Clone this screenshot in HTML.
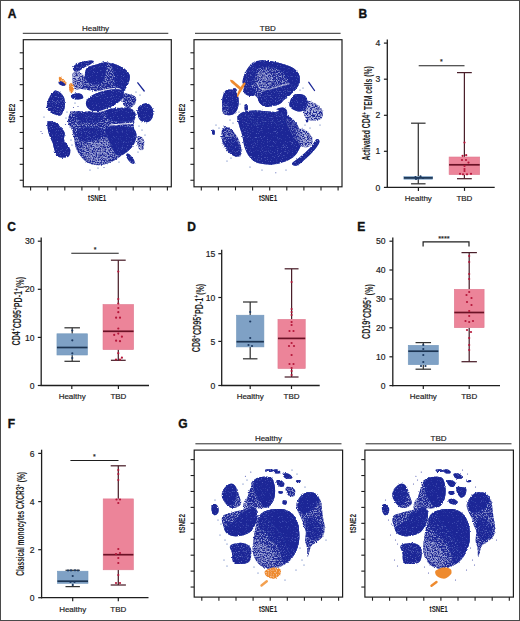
<!DOCTYPE html>
<html><head><meta charset="utf-8"><style>
html,body{margin:0;padding:0;background:#fff;}
svg{display:block;}
text{font-family:"Liberation Sans",sans-serif;}
</style></head><body>
<svg width="520" height="621" viewBox="0 0 520 621">
<rect x="0" y="0" width="520" height="621" fill="#fff"/>
<defs><filter id="d0" x="-10%" y="-10%" width="120%" height="120%"><feTurbulence type="fractalNoise" baseFrequency="0.8" numOctaves="2" seed="7" result="n"/><feDisplacementMap in="SourceGraphic" in2="n" scale="2.4" xChannelSelector="R" yChannelSelector="G" result="d"/><feColorMatrix in="n" type="matrix" values="0 0 0 0 0 0 0 0 0 0 0 0 0 0 0 4 0 0 0 -0.6" result="a"/><feFlood flood-color="#4a5abb" flood-opacity="0.9" result="fl"/><feComposite in="fl" in2="d" operator="in" result="lt"/><feComposite in="d" in2="a" operator="in" result="dk"/><feMerge><feMergeNode in="lt"/><feMergeNode in="dk"/></feMerge></filter><filter id="d1" x="-10%" y="-10%" width="120%" height="120%"><feTurbulence type="fractalNoise" baseFrequency="0.8" numOctaves="2" seed="7" result="n"/><feDisplacementMap in="SourceGraphic" in2="n" scale="2.4" xChannelSelector="R" yChannelSelector="G" result="d"/><feColorMatrix in="n" type="matrix" values="0 0 0 0 0 0 0 0 0 0 0 0 0 0 0 4 0 0 0 -0.85" result="a"/><feFlood flood-color="#4a58b6" flood-opacity="0.85" result="fl"/><feComposite in="fl" in2="d" operator="in" result="lt"/><feComposite in="d" in2="a" operator="in" result="dk"/><feMerge><feMergeNode in="lt"/><feMergeNode in="dk"/></feMerge></filter><filter id="d2" x="-10%" y="-10%" width="120%" height="120%"><feTurbulence type="fractalNoise" baseFrequency="0.8" numOctaves="2" seed="7" result="n"/><feDisplacementMap in="SourceGraphic" in2="n" scale="2.4" xChannelSelector="R" yChannelSelector="G" result="d"/><feColorMatrix in="n" type="matrix" values="0 0 0 0 0 0 0 0 0 0 0 0 0 0 0 4 0 0 0 -1.15" result="a"/><feFlood flood-color="#7b86cc" flood-opacity="0.8" result="fl"/><feComposite in="fl" in2="d" operator="in" result="lt"/><feComposite in="d" in2="a" operator="in" result="dk"/><feMerge><feMergeNode in="lt"/><feMergeNode in="dk"/></feMerge></filter><filter id="d3" x="-10%" y="-10%" width="120%" height="120%"><feTurbulence type="fractalNoise" baseFrequency="0.8" numOctaves="2" seed="7" result="n"/><feDisplacementMap in="SourceGraphic" in2="n" scale="2.4" xChannelSelector="R" yChannelSelector="G" result="d"/><feColorMatrix in="n" type="matrix" values="0 0 0 0 0 0 0 0 0 0 0 0 0 0 0 4 0 0 0 -1.45" result="a"/><feFlood flood-color="#a3abdf" flood-opacity="0.75" result="fl"/><feComposite in="fl" in2="d" operator="in" result="lt"/><feComposite in="d" in2="a" operator="in" result="dk"/><feMerge><feMergeNode in="lt"/><feMergeNode in="dk"/></feMerge></filter><filter id="dor" x="-10%" y="-10%" width="120%" height="120%"><feTurbulence type="fractalNoise" baseFrequency="0.8" numOctaves="2" seed="11" result="n"/><feDisplacementMap in="SourceGraphic" in2="n" scale="2" xChannelSelector="R" yChannelSelector="G" result="d"/><feColorMatrix in="n" type="matrix" values="0 0 0 0 0 0 0 0 0 0 0 0 0 0 0 4 0 0 0 -1.0" result="a"/><feFlood flood-color="#f6c08a" flood-opacity="0.9" result="fl"/><feComposite in="fl" in2="d" operator="in" result="lt"/><feComposite in="d" in2="a" operator="in" result="dk"/><feMerge><feMergeNode in="lt"/><feMergeNode in="dk"/></feMerge></filter><filter id="soft" x="-5%" y="-5%" width="110%" height="110%"><feGaussianBlur stdDeviation="0.35"/></filter></defs>
<text x="7.80" y="17.70" font-size="12" font-weight="bold" fill="#111" stroke="#111" stroke-width="0.35">A</text>
<text x="358.60" y="17.70" font-size="12" font-weight="bold" fill="#111" stroke="#111" stroke-width="0.35">B</text>
<text x="7.20" y="230.90" font-size="12" font-weight="bold" fill="#111" stroke="#111" stroke-width="0.35">C</text>
<text x="187.20" y="230.90" font-size="12" font-weight="bold" fill="#111" stroke="#111" stroke-width="0.35">D</text>
<text x="357.20" y="230.90" font-size="12" font-weight="bold" fill="#111" stroke="#111" stroke-width="0.35">E</text>
<text x="7.80" y="428.20" font-size="12" font-weight="bold" fill="#111" stroke="#111" stroke-width="0.35">F</text>
<text x="178.30" y="428.00" font-size="12" font-weight="bold" fill="#111" stroke="#111" stroke-width="0.35">G</text>
<line x1="387.30" y1="39.40" x2="387.30" y2="188.00" stroke="#1e1e1e" stroke-width="1.3"/>
<line x1="386.70" y1="187.40" x2="494.70" y2="187.40" stroke="#1e1e1e" stroke-width="1.3"/>
<line x1="383.90" y1="187.40" x2="387.30" y2="187.40" stroke="#1e1e1e" stroke-width="1.2"/>
<text x="380.40" y="190.50" font-size="8.6" text-anchor="end" font-weight="normal" fill="#222" stroke="#222" stroke-width="0.18">0</text>
<line x1="383.90" y1="151.30" x2="387.30" y2="151.30" stroke="#1e1e1e" stroke-width="1.2"/>
<text x="380.40" y="154.40" font-size="8.6" text-anchor="end" font-weight="normal" fill="#222" stroke="#222" stroke-width="0.18">1</text>
<line x1="383.90" y1="115.30" x2="387.30" y2="115.30" stroke="#1e1e1e" stroke-width="1.2"/>
<text x="380.40" y="118.40" font-size="8.6" text-anchor="end" font-weight="normal" fill="#222" stroke="#222" stroke-width="0.18">2</text>
<line x1="383.90" y1="79.20" x2="387.30" y2="79.20" stroke="#1e1e1e" stroke-width="1.2"/>
<text x="380.40" y="82.30" font-size="8.6" text-anchor="end" font-weight="normal" fill="#222" stroke="#222" stroke-width="0.18">3</text>
<line x1="383.90" y1="43.10" x2="387.30" y2="43.10" stroke="#1e1e1e" stroke-width="1.2"/>
<text x="380.40" y="46.20" font-size="8.6" text-anchor="end" font-weight="normal" fill="#222" stroke="#222" stroke-width="0.18">4</text>
<line x1="418.40" y1="187.40" x2="418.40" y2="190.90" stroke="#1e1e1e" stroke-width="1.2"/>
<line x1="464.50" y1="187.40" x2="464.50" y2="190.90" stroke="#1e1e1e" stroke-width="1.2"/>
<line x1="418.30" y1="123.20" x2="418.30" y2="176.60" stroke="#333" stroke-width="1.25"/>
<line x1="418.30" y1="179.20" x2="418.30" y2="183.80" stroke="#333" stroke-width="1.25"/>
<line x1="411.05" y1="123.20" x2="425.55" y2="123.20" stroke="#333" stroke-width="1.25"/>
<line x1="411.05" y1="183.80" x2="425.55" y2="183.80" stroke="#333" stroke-width="1.25"/>
<rect x="403.90" y="176.60" width="28.80" height="2.60" fill="#7fa1c5" stroke="#7398bd" stroke-width="0.6"/>
<line x1="403.90" y1="177.90" x2="432.70" y2="177.90" stroke="#1d3553" stroke-width="1.7"/>
<circle cx="415.50" cy="177.20" r="1.1" fill="#1d3a62"/>
<circle cx="420.50" cy="176.40" r="1.1" fill="#1d3a62"/>
<circle cx="418.30" cy="178.60" r="1.1" fill="#1d3a62"/>
<circle cx="423.00" cy="178.00" r="1.1" fill="#1d3a62"/>
<circle cx="416.00" cy="179.00" r="1.1" fill="#1d3a62"/>
<line x1="464.40" y1="72.60" x2="464.40" y2="157.00" stroke="#4a1f2a" stroke-width="1.25"/>
<line x1="464.40" y1="174.60" x2="464.40" y2="178.70" stroke="#4a1f2a" stroke-width="1.25"/>
<line x1="457.00" y1="72.60" x2="471.80" y2="72.60" stroke="#4a1f2a" stroke-width="1.25"/>
<line x1="457.00" y1="178.70" x2="471.80" y2="178.70" stroke="#4a1f2a" stroke-width="1.25"/>
<rect x="449.10" y="157.00" width="30.60" height="17.60" fill="#ec8499" stroke="#e07a90" stroke-width="0.6"/>
<line x1="449.10" y1="164.80" x2="479.70" y2="164.80" stroke="#6b1226" stroke-width="1.7"/>
<circle cx="464.50" cy="142.60" r="1.1" fill="#b5173a"/>
<circle cx="462.60" cy="155.80" r="1.1" fill="#b5173a"/>
<circle cx="466.20" cy="155.20" r="1.1" fill="#b5173a"/>
<circle cx="462.00" cy="160.00" r="1.1" fill="#b5173a"/>
<circle cx="466.00" cy="160.00" r="1.1" fill="#b5173a"/>
<circle cx="468.50" cy="162.60" r="1.1" fill="#b5173a"/>
<circle cx="464.50" cy="166.00" r="1.1" fill="#b5173a"/>
<circle cx="464.50" cy="169.00" r="1.1" fill="#b5173a"/>
<circle cx="460.00" cy="173.80" r="1.1" fill="#b5173a"/>
<circle cx="463.00" cy="174.30" r="1.1" fill="#b5173a"/>
<circle cx="467.00" cy="174.30" r="1.1" fill="#b5173a"/>
<circle cx="471.00" cy="173.80" r="1.1" fill="#b5173a"/>
<circle cx="464.50" cy="171.00" r="1.1" fill="#b5173a"/>
<line x1="418.70" y1="65.80" x2="464.50" y2="65.80" stroke="#1e1e1e" stroke-width="1.1"/>
<text x="441.30" y="64.30" font-size="7" text-anchor="middle" font-weight="normal" fill="#222" stroke="#222" stroke-width="0.18">*</text>
<text x="418.30" y="201.20" font-size="8" text-anchor="middle" font-weight="normal" fill="#222" stroke="#222" stroke-width="0.18">Healthy</text>
<text x="464.40" y="201.20" font-size="8" text-anchor="middle" font-weight="normal" fill="#222" stroke="#222" stroke-width="0.18">TBD</text>
<g transform="translate(370.20 113.45) rotate(-90) scale(0.6791 1)"><text id="yl1" x="0" y="0" font-size="10" font-weight="bold" text-anchor="middle" fill="#1e1e1e">Activated CD4<tspan font-size="0.7em" dy="-0.45em">+</tspan><tspan dy="0.45em"> TEM cells (%)</tspan></text></g>
<line x1="41.20" y1="237.50" x2="41.20" y2="386.10" stroke="#1e1e1e" stroke-width="1.3"/>
<line x1="40.60" y1="385.50" x2="149.00" y2="385.50" stroke="#1e1e1e" stroke-width="1.3"/>
<line x1="37.80" y1="385.50" x2="41.20" y2="385.50" stroke="#1e1e1e" stroke-width="1.2"/>
<text x="34.50" y="388.60" font-size="8.6" text-anchor="end" font-weight="normal" fill="#222" stroke="#222" stroke-width="0.18">0</text>
<line x1="37.80" y1="337.40" x2="41.20" y2="337.40" stroke="#1e1e1e" stroke-width="1.2"/>
<text x="34.50" y="340.50" font-size="8.6" text-anchor="end" font-weight="normal" fill="#222" stroke="#222" stroke-width="0.18">10</text>
<line x1="37.80" y1="289.30" x2="41.20" y2="289.30" stroke="#1e1e1e" stroke-width="1.2"/>
<text x="34.50" y="292.40" font-size="8.6" text-anchor="end" font-weight="normal" fill="#222" stroke="#222" stroke-width="0.18">20</text>
<line x1="37.80" y1="241.20" x2="41.20" y2="241.20" stroke="#1e1e1e" stroke-width="1.2"/>
<text x="34.50" y="244.30" font-size="8.6" text-anchor="end" font-weight="normal" fill="#222" stroke="#222" stroke-width="0.18">30</text>
<line x1="71.80" y1="385.50" x2="71.80" y2="389.00" stroke="#1e1e1e" stroke-width="1.2"/>
<line x1="118.40" y1="385.50" x2="118.40" y2="389.00" stroke="#1e1e1e" stroke-width="1.2"/>
<line x1="72.20" y1="327.80" x2="72.20" y2="333.80" stroke="#333" stroke-width="1.25"/>
<line x1="72.20" y1="355.00" x2="72.20" y2="361.30" stroke="#333" stroke-width="1.25"/>
<line x1="64.45" y1="327.80" x2="79.95" y2="327.80" stroke="#333" stroke-width="1.25"/>
<line x1="64.45" y1="361.30" x2="79.95" y2="361.30" stroke="#333" stroke-width="1.25"/>
<rect x="56.95" y="333.80" width="30.50" height="21.20" fill="#7fa1c5" stroke="#7398bd" stroke-width="0.6"/>
<line x1="56.95" y1="347.50" x2="87.45" y2="347.50" stroke="#1d3553" stroke-width="1.7"/>
<circle cx="72.30" cy="340.30" r="1.1" fill="#1d3a62"/>
<circle cx="72.30" cy="353.30" r="1.1" fill="#1d3a62"/>
<circle cx="72.30" cy="330.50" r="1.1" fill="#1d3a62"/>
<circle cx="72.30" cy="358.00" r="1.1" fill="#1d3a62"/>
<line x1="118.30" y1="260.20" x2="118.30" y2="304.50" stroke="#4a1f2a" stroke-width="1.25"/>
<line x1="118.30" y1="349.60" x2="118.30" y2="360.30" stroke="#4a1f2a" stroke-width="1.25"/>
<line x1="110.90" y1="260.20" x2="125.70" y2="260.20" stroke="#4a1f2a" stroke-width="1.25"/>
<line x1="110.90" y1="360.30" x2="125.70" y2="360.30" stroke="#4a1f2a" stroke-width="1.25"/>
<rect x="103.00" y="304.50" width="30.60" height="45.10" fill="#ec8499" stroke="#e07a90" stroke-width="0.6"/>
<line x1="103.00" y1="331.30" x2="133.60" y2="331.30" stroke="#6b1226" stroke-width="1.7"/>
<circle cx="118.30" cy="271.60" r="1.1" fill="#b5173a"/>
<circle cx="118.30" cy="299.00" r="1.1" fill="#b5173a"/>
<circle cx="118.30" cy="303.50" r="1.1" fill="#b5173a"/>
<circle cx="118.30" cy="308.00" r="1.1" fill="#b5173a"/>
<circle cx="118.30" cy="312.20" r="1.1" fill="#b5173a"/>
<circle cx="116.10" cy="317.70" r="1.1" fill="#b5173a"/>
<circle cx="120.00" cy="317.70" r="1.1" fill="#b5173a"/>
<circle cx="118.30" cy="328.50" r="1.1" fill="#b5173a"/>
<circle cx="114.20" cy="334.90" r="1.1" fill="#b5173a"/>
<circle cx="118.30" cy="333.60" r="1.1" fill="#b5173a"/>
<circle cx="121.90" cy="336.70" r="1.1" fill="#b5173a"/>
<circle cx="116.10" cy="340.70" r="1.1" fill="#b5173a"/>
<circle cx="120.00" cy="341.20" r="1.1" fill="#b5173a"/>
<circle cx="118.30" cy="353.20" r="1.1" fill="#b5173a"/>
<circle cx="121.90" cy="357.70" r="1.1" fill="#b5173a"/>
<circle cx="116.00" cy="359.50" r="1.1" fill="#b5173a"/>
<circle cx="120.00" cy="359.60" r="1.1" fill="#b5173a"/>
<line x1="71.30" y1="253.30" x2="118.70" y2="253.30" stroke="#1e1e1e" stroke-width="1.1"/>
<text x="95.20" y="251.80" font-size="7" text-anchor="middle" font-weight="normal" fill="#222" stroke="#222" stroke-width="0.18">*</text>
<text x="72.20" y="399.20" font-size="8" text-anchor="middle" font-weight="normal" fill="#222" stroke="#222" stroke-width="0.18">Healthy</text>
<text x="118.40" y="399.20" font-size="8" text-anchor="middle" font-weight="normal" fill="#222" stroke="#222" stroke-width="0.18">TBD</text>
<g transform="translate(19.60 311.20) rotate(-90) scale(0.7128 1)"><text id="yl2" x="0" y="0" font-size="10" font-weight="bold" text-anchor="middle" fill="#1e1e1e">CD4<tspan font-size="0.7em" dy="-0.45em">+</tspan><tspan dy="0.45em">CD95</tspan><tspan font-size="0.7em" dy="-0.45em">+</tspan><tspan dy="0.45em">PD-1</tspan><tspan font-size="0.7em" dy="-0.45em">+</tspan><tspan dy="0.45em">(%)</tspan></text></g>
<line x1="221.70" y1="249.80" x2="221.70" y2="386.10" stroke="#1e1e1e" stroke-width="1.3"/>
<line x1="221.10" y1="385.50" x2="319.70" y2="385.50" stroke="#1e1e1e" stroke-width="1.3"/>
<line x1="218.30" y1="385.50" x2="221.70" y2="385.50" stroke="#1e1e1e" stroke-width="1.2"/>
<text x="215.30" y="388.60" font-size="8.6" text-anchor="end" font-weight="normal" fill="#222" stroke="#222" stroke-width="0.18">0</text>
<line x1="218.30" y1="341.40" x2="221.70" y2="341.40" stroke="#1e1e1e" stroke-width="1.2"/>
<text x="215.30" y="344.50" font-size="8.6" text-anchor="end" font-weight="normal" fill="#222" stroke="#222" stroke-width="0.18">5</text>
<line x1="218.30" y1="297.50" x2="221.70" y2="297.50" stroke="#1e1e1e" stroke-width="1.2"/>
<text x="215.30" y="300.60" font-size="8.6" text-anchor="end" font-weight="normal" fill="#222" stroke="#222" stroke-width="0.18">10</text>
<line x1="218.30" y1="253.70" x2="221.70" y2="253.70" stroke="#1e1e1e" stroke-width="1.2"/>
<text x="215.30" y="256.80" font-size="8.6" text-anchor="end" font-weight="normal" fill="#222" stroke="#222" stroke-width="0.18">15</text>
<line x1="250.20" y1="385.50" x2="250.20" y2="389.00" stroke="#1e1e1e" stroke-width="1.2"/>
<line x1="291.50" y1="385.50" x2="291.50" y2="389.00" stroke="#1e1e1e" stroke-width="1.2"/>
<line x1="250.20" y1="302.00" x2="250.20" y2="315.20" stroke="#333" stroke-width="1.25"/>
<line x1="250.20" y1="346.90" x2="250.20" y2="358.80" stroke="#333" stroke-width="1.25"/>
<line x1="242.95" y1="302.00" x2="257.45" y2="302.00" stroke="#333" stroke-width="1.25"/>
<line x1="242.95" y1="358.80" x2="257.45" y2="358.80" stroke="#333" stroke-width="1.25"/>
<rect x="236.50" y="315.20" width="27.40" height="31.70" fill="#7fa1c5" stroke="#7398bd" stroke-width="0.6"/>
<line x1="236.50" y1="341.70" x2="263.90" y2="341.70" stroke="#1d3553" stroke-width="1.7"/>
<circle cx="250.20" cy="312.00" r="1.1" fill="#1d3a62"/>
<circle cx="250.20" cy="321.50" r="1.1" fill="#1d3a62"/>
<circle cx="250.20" cy="338.00" r="1.1" fill="#1d3a62"/>
<circle cx="248.50" cy="345.00" r="1.1" fill="#1d3a62"/>
<circle cx="252.00" cy="346.00" r="1.1" fill="#1d3a62"/>
<line x1="291.60" y1="268.80" x2="291.60" y2="319.40" stroke="#4a1f2a" stroke-width="1.25"/>
<line x1="291.60" y1="368.50" x2="291.60" y2="377.00" stroke="#4a1f2a" stroke-width="1.25"/>
<line x1="284.65" y1="268.80" x2="298.55" y2="268.80" stroke="#4a1f2a" stroke-width="1.25"/>
<line x1="284.65" y1="377.00" x2="298.55" y2="377.00" stroke="#4a1f2a" stroke-width="1.25"/>
<rect x="277.95" y="319.40" width="27.30" height="49.10" fill="#ec8499" stroke="#e07a90" stroke-width="0.6"/>
<line x1="277.95" y1="338.40" x2="305.25" y2="338.40" stroke="#6b1226" stroke-width="1.7"/>
<circle cx="291.60" cy="282.00" r="1.1" fill="#b5173a"/>
<circle cx="291.60" cy="309.00" r="1.1" fill="#b5173a"/>
<circle cx="291.60" cy="312.00" r="1.1" fill="#b5173a"/>
<circle cx="291.60" cy="315.00" r="1.1" fill="#b5173a"/>
<circle cx="291.60" cy="322.00" r="1.1" fill="#b5173a"/>
<circle cx="291.60" cy="325.00" r="1.1" fill="#b5173a"/>
<circle cx="289.50" cy="331.00" r="1.1" fill="#b5173a"/>
<circle cx="293.50" cy="331.00" r="1.1" fill="#b5173a"/>
<circle cx="291.60" cy="343.00" r="1.1" fill="#b5173a"/>
<circle cx="289.00" cy="346.00" r="1.1" fill="#b5173a"/>
<circle cx="294.00" cy="346.00" r="1.1" fill="#b5173a"/>
<circle cx="291.60" cy="355.00" r="1.1" fill="#b5173a"/>
<circle cx="289.50" cy="364.00" r="1.1" fill="#b5173a"/>
<circle cx="293.50" cy="364.00" r="1.1" fill="#b5173a"/>
<circle cx="291.60" cy="368.00" r="1.1" fill="#b5173a"/>
<circle cx="291.60" cy="371.00" r="1.1" fill="#b5173a"/>
<circle cx="291.60" cy="375.00" r="1.1" fill="#b5173a"/>
<text x="250.20" y="399.20" font-size="8" text-anchor="middle" font-weight="normal" fill="#222" stroke="#222" stroke-width="0.18">Healthy</text>
<text x="291.60" y="399.20" font-size="8" text-anchor="middle" font-weight="normal" fill="#222" stroke="#222" stroke-width="0.18">TBD</text>
<g transform="translate(199.80 318.00) rotate(-90) scale(0.7128 1)"><text id="yl3" x="0" y="0" font-size="10" font-weight="bold" text-anchor="middle" fill="#1e1e1e">CD8<tspan font-size="0.7em" dy="-0.45em">+</tspan><tspan dy="0.45em">CD95</tspan><tspan font-size="0.7em" dy="-0.45em">+</tspan><tspan dy="0.45em">PD-1</tspan><tspan font-size="0.7em" dy="-0.45em">+</tspan><tspan dy="0.45em">(%)</tspan></text></g>
<line x1="392.80" y1="237.50" x2="392.80" y2="386.20" stroke="#1e1e1e" stroke-width="1.3"/>
<line x1="392.20" y1="385.60" x2="500.00" y2="385.60" stroke="#1e1e1e" stroke-width="1.3"/>
<line x1="389.40" y1="385.60" x2="392.80" y2="385.60" stroke="#1e1e1e" stroke-width="1.2"/>
<text x="385.60" y="388.70" font-size="8.6" text-anchor="end" font-weight="normal" fill="#222" stroke="#222" stroke-width="0.18">0</text>
<line x1="389.40" y1="356.80" x2="392.80" y2="356.80" stroke="#1e1e1e" stroke-width="1.2"/>
<text x="385.60" y="359.90" font-size="8.6" text-anchor="end" font-weight="normal" fill="#222" stroke="#222" stroke-width="0.18">10</text>
<line x1="389.40" y1="327.80" x2="392.80" y2="327.80" stroke="#1e1e1e" stroke-width="1.2"/>
<text x="385.60" y="330.90" font-size="8.6" text-anchor="end" font-weight="normal" fill="#222" stroke="#222" stroke-width="0.18">20</text>
<line x1="389.40" y1="299.00" x2="392.80" y2="299.00" stroke="#1e1e1e" stroke-width="1.2"/>
<text x="385.60" y="302.10" font-size="8.6" text-anchor="end" font-weight="normal" fill="#222" stroke="#222" stroke-width="0.18">30</text>
<line x1="389.40" y1="270.00" x2="392.80" y2="270.00" stroke="#1e1e1e" stroke-width="1.2"/>
<text x="385.60" y="273.10" font-size="8.6" text-anchor="end" font-weight="normal" fill="#222" stroke="#222" stroke-width="0.18">40</text>
<line x1="389.40" y1="241.20" x2="392.80" y2="241.20" stroke="#1e1e1e" stroke-width="1.2"/>
<text x="385.60" y="244.30" font-size="8.6" text-anchor="end" font-weight="normal" fill="#222" stroke="#222" stroke-width="0.18">50</text>
<line x1="423.30" y1="385.60" x2="423.30" y2="389.10" stroke="#1e1e1e" stroke-width="1.2"/>
<line x1="469.20" y1="385.60" x2="469.20" y2="389.10" stroke="#1e1e1e" stroke-width="1.2"/>
<line x1="423.30" y1="342.60" x2="423.30" y2="345.30" stroke="#333" stroke-width="1.25"/>
<line x1="423.30" y1="364.70" x2="423.30" y2="369.20" stroke="#333" stroke-width="1.25"/>
<line x1="415.55" y1="342.60" x2="431.05" y2="342.60" stroke="#333" stroke-width="1.25"/>
<line x1="415.55" y1="369.20" x2="431.05" y2="369.20" stroke="#333" stroke-width="1.25"/>
<rect x="408.25" y="345.30" width="30.10" height="19.40" fill="#7fa1c5" stroke="#7398bd" stroke-width="0.6"/>
<line x1="408.25" y1="351.20" x2="438.35" y2="351.20" stroke="#1d3553" stroke-width="1.7"/>
<circle cx="423.30" cy="345.00" r="1.1" fill="#1d3a62"/>
<circle cx="423.30" cy="349.00" r="1.1" fill="#1d3a62"/>
<circle cx="423.30" cy="355.00" r="1.1" fill="#1d3a62"/>
<circle cx="423.30" cy="362.00" r="1.1" fill="#1d3a62"/>
<circle cx="421.00" cy="366.00" r="1.1" fill="#1d3a62"/>
<circle cx="425.50" cy="366.00" r="1.1" fill="#1d3a62"/>
<line x1="469.20" y1="252.60" x2="469.20" y2="289.30" stroke="#4a1f2a" stroke-width="1.25"/>
<line x1="469.20" y1="327.70" x2="469.20" y2="361.70" stroke="#4a1f2a" stroke-width="1.25"/>
<line x1="461.50" y1="252.60" x2="476.90" y2="252.60" stroke="#4a1f2a" stroke-width="1.25"/>
<line x1="461.50" y1="361.70" x2="476.90" y2="361.70" stroke="#4a1f2a" stroke-width="1.25"/>
<rect x="454.30" y="289.30" width="29.80" height="38.40" fill="#ec8499" stroke="#e07a90" stroke-width="0.6"/>
<line x1="454.30" y1="312.50" x2="484.10" y2="312.50" stroke="#6b1226" stroke-width="1.7"/>
<circle cx="469.20" cy="256.00" r="1.1" fill="#b5173a"/>
<circle cx="469.20" cy="262.00" r="1.1" fill="#b5173a"/>
<circle cx="469.20" cy="274.00" r="1.1" fill="#b5173a"/>
<circle cx="469.20" cy="279.00" r="1.1" fill="#b5173a"/>
<circle cx="469.20" cy="292.00" r="1.1" fill="#b5173a"/>
<circle cx="466.50" cy="295.00" r="1.1" fill="#b5173a"/>
<circle cx="471.50" cy="298.00" r="1.1" fill="#b5173a"/>
<circle cx="467.00" cy="302.00" r="1.1" fill="#b5173a"/>
<circle cx="471.50" cy="305.00" r="1.1" fill="#b5173a"/>
<circle cx="469.20" cy="311.00" r="1.1" fill="#b5173a"/>
<circle cx="469.20" cy="316.00" r="1.1" fill="#b5173a"/>
<circle cx="465.50" cy="321.00" r="1.1" fill="#b5173a"/>
<circle cx="469.20" cy="322.00" r="1.1" fill="#b5173a"/>
<circle cx="473.00" cy="321.00" r="1.1" fill="#b5173a"/>
<circle cx="467.00" cy="330.00" r="1.1" fill="#b5173a"/>
<circle cx="471.00" cy="332.00" r="1.1" fill="#b5173a"/>
<circle cx="469.20" cy="338.00" r="1.1" fill="#b5173a"/>
<circle cx="469.20" cy="345.00" r="1.1" fill="#b5173a"/>
<circle cx="469.20" cy="350.00" r="1.1" fill="#b5173a"/>
<polyline points="423.10,246.60 423.10,241.80 469.00,241.80 469.00,246.60" fill="none" stroke="#1e1e1e" stroke-width="1.2"/>
<text x="443.90" y="240.90" font-size="7.4" text-anchor="middle" font-weight="normal" fill="#222" stroke="#222" stroke-width="0.18">****</text>
<text x="423.30" y="399.20" font-size="8" text-anchor="middle" font-weight="normal" fill="#222" stroke="#222" stroke-width="0.18">Healthy</text>
<text x="469.20" y="399.20" font-size="8" text-anchor="middle" font-weight="normal" fill="#222" stroke="#222" stroke-width="0.18">TBD</text>
<g transform="translate(370.00 311.60) rotate(-90) scale(0.7054 1)"><text id="yl4" x="0" y="0" font-size="10" font-weight="bold" text-anchor="middle" fill="#1e1e1e">CD19<tspan font-size="0.7em" dy="-0.45em">+</tspan><tspan dy="0.45em">CD95</tspan><tspan font-size="0.7em" dy="-0.45em">+</tspan><tspan dy="0.45em"> (%)</tspan></text></g>
<line x1="41.60" y1="449.70" x2="41.60" y2="598.30" stroke="#1e1e1e" stroke-width="1.3"/>
<line x1="41.00" y1="597.70" x2="148.50" y2="597.70" stroke="#1e1e1e" stroke-width="1.3"/>
<line x1="38.20" y1="597.70" x2="41.60" y2="597.70" stroke="#1e1e1e" stroke-width="1.2"/>
<text x="34.60" y="600.80" font-size="8.6" text-anchor="end" font-weight="normal" fill="#222" stroke="#222" stroke-width="0.18">0</text>
<line x1="38.20" y1="549.70" x2="41.60" y2="549.70" stroke="#1e1e1e" stroke-width="1.2"/>
<text x="34.60" y="552.80" font-size="8.6" text-anchor="end" font-weight="normal" fill="#222" stroke="#222" stroke-width="0.18">2</text>
<line x1="38.20" y1="501.60" x2="41.60" y2="501.60" stroke="#1e1e1e" stroke-width="1.2"/>
<text x="34.60" y="504.70" font-size="8.6" text-anchor="end" font-weight="normal" fill="#222" stroke="#222" stroke-width="0.18">4</text>
<line x1="38.20" y1="453.40" x2="41.60" y2="453.40" stroke="#1e1e1e" stroke-width="1.2"/>
<text x="34.60" y="456.50" font-size="8.6" text-anchor="end" font-weight="normal" fill="#222" stroke="#222" stroke-width="0.18">6</text>
<line x1="72.70" y1="597.70" x2="72.70" y2="601.20" stroke="#1e1e1e" stroke-width="1.2"/>
<line x1="118.30" y1="597.70" x2="118.30" y2="601.20" stroke="#1e1e1e" stroke-width="1.2"/>
<line x1="72.70" y1="570.30" x2="72.70" y2="571.20" stroke="#333" stroke-width="1.25"/>
<line x1="72.70" y1="583.40" x2="72.70" y2="586.60" stroke="#333" stroke-width="1.25"/>
<line x1="65.50" y1="570.30" x2="79.90" y2="570.30" stroke="#333" stroke-width="1.25"/>
<line x1="65.50" y1="586.60" x2="79.90" y2="586.60" stroke="#333" stroke-width="1.25"/>
<rect x="57.40" y="571.20" width="30.60" height="12.20" fill="#7fa1c5" stroke="#7398bd" stroke-width="0.6"/>
<line x1="57.40" y1="581.20" x2="88.00" y2="581.20" stroke="#1d3553" stroke-width="1.7"/>
<circle cx="68.00" cy="570.50" r="1.1" fill="#1d3a62"/>
<circle cx="71.00" cy="570.40" r="1.1" fill="#1d3a62"/>
<circle cx="75.00" cy="570.30" r="1.1" fill="#1d3a62"/>
<circle cx="78.00" cy="570.50" r="1.1" fill="#1d3a62"/>
<circle cx="72.70" cy="576.00" r="1.1" fill="#1d3a62"/>
<circle cx="70.50" cy="582.00" r="1.1" fill="#1d3a62"/>
<circle cx="74.50" cy="582.00" r="1.1" fill="#1d3a62"/>
<circle cx="72.70" cy="585.00" r="1.1" fill="#1d3a62"/>
<line x1="118.30" y1="465.80" x2="118.30" y2="498.90" stroke="#4a1f2a" stroke-width="1.25"/>
<line x1="118.30" y1="569.80" x2="118.30" y2="585.00" stroke="#4a1f2a" stroke-width="1.25"/>
<line x1="110.70" y1="465.80" x2="125.90" y2="465.80" stroke="#4a1f2a" stroke-width="1.25"/>
<line x1="110.70" y1="585.00" x2="125.90" y2="585.00" stroke="#4a1f2a" stroke-width="1.25"/>
<rect x="103.20" y="498.90" width="30.20" height="70.90" fill="#ec8499" stroke="#e07a90" stroke-width="0.6"/>
<line x1="103.20" y1="554.70" x2="133.40" y2="554.70" stroke="#6b1226" stroke-width="1.7"/>
<circle cx="118.30" cy="470.00" r="1.1" fill="#b5173a"/>
<circle cx="118.30" cy="474.00" r="1.1" fill="#b5173a"/>
<circle cx="118.30" cy="480.00" r="1.1" fill="#b5173a"/>
<circle cx="116.50" cy="499.50" r="1.1" fill="#b5173a"/>
<circle cx="120.00" cy="499.50" r="1.1" fill="#b5173a"/>
<circle cx="118.30" cy="503.00" r="1.1" fill="#b5173a"/>
<circle cx="118.30" cy="549.00" r="1.1" fill="#b5173a"/>
<circle cx="116.00" cy="554.00" r="1.1" fill="#b5173a"/>
<circle cx="120.00" cy="553.00" r="1.1" fill="#b5173a"/>
<circle cx="118.30" cy="558.00" r="1.1" fill="#b5173a"/>
<circle cx="118.30" cy="563.00" r="1.1" fill="#b5173a"/>
<circle cx="118.30" cy="575.00" r="1.1" fill="#b5173a"/>
<circle cx="116.00" cy="583.00" r="1.1" fill="#b5173a"/>
<circle cx="120.00" cy="583.00" r="1.1" fill="#b5173a"/>
<line x1="70.40" y1="460.50" x2="118.50" y2="460.50" stroke="#1e1e1e" stroke-width="1.1"/>
<text x="94.30" y="459.00" font-size="7" text-anchor="middle" font-weight="normal" fill="#222" stroke="#222" stroke-width="0.18">*</text>
<text x="72.70" y="612.00" font-size="8" text-anchor="middle" font-weight="normal" fill="#222" stroke="#222" stroke-width="0.18">Healthy</text>
<text x="118.30" y="612.00" font-size="8" text-anchor="middle" font-weight="normal" fill="#222" stroke="#222" stroke-width="0.18">TBD</text>
<g transform="translate(23.80 523.85) rotate(-90) scale(0.6573 1)"><text id="yl5" x="0" y="0" font-size="10" font-weight="bold" text-anchor="middle" fill="#1e1e1e">Classical monocytes CXCR3<tspan font-size="0.7em" dy="-0.45em">+</tspan><tspan dy="0.45em"> (%)</tspan></text></g>
<line x1="22.80" y1="33.30" x2="168.30" y2="33.30" stroke="#2a2a2a" stroke-width="1.0"/>
<text x="95.55" y="30.80" font-size="8" text-anchor="middle" font-weight="normal" fill="#222" stroke="#222" stroke-width="0.18">Healthy</text>
<rect x="23.30" y="39.70" width="148.00" height="147.10" fill="none" stroke="#1e1e1e" stroke-width="1.2"/>
<line x1="19.70" y1="52.80" x2="23.30" y2="52.80" stroke="#1e1e1e" stroke-width="1.1"/>
<line x1="30.60" y1="186.80" x2="30.60" y2="190.40" stroke="#1e1e1e" stroke-width="1.1"/>
<line x1="19.70" y1="68.73" x2="23.30" y2="68.73" stroke="#1e1e1e" stroke-width="1.1"/>
<line x1="47.70" y1="186.80" x2="47.70" y2="190.40" stroke="#1e1e1e" stroke-width="1.1"/>
<line x1="19.70" y1="84.66" x2="23.30" y2="84.66" stroke="#1e1e1e" stroke-width="1.1"/>
<line x1="64.80" y1="186.80" x2="64.80" y2="190.40" stroke="#1e1e1e" stroke-width="1.1"/>
<line x1="19.70" y1="100.59" x2="23.30" y2="100.59" stroke="#1e1e1e" stroke-width="1.1"/>
<line x1="81.90" y1="186.80" x2="81.90" y2="190.40" stroke="#1e1e1e" stroke-width="1.1"/>
<line x1="19.70" y1="116.52" x2="23.30" y2="116.52" stroke="#1e1e1e" stroke-width="1.1"/>
<line x1="99.00" y1="186.80" x2="99.00" y2="190.40" stroke="#1e1e1e" stroke-width="1.1"/>
<line x1="19.70" y1="132.45" x2="23.30" y2="132.45" stroke="#1e1e1e" stroke-width="1.1"/>
<line x1="116.10" y1="186.80" x2="116.10" y2="190.40" stroke="#1e1e1e" stroke-width="1.1"/>
<line x1="19.70" y1="148.38" x2="23.30" y2="148.38" stroke="#1e1e1e" stroke-width="1.1"/>
<line x1="133.20" y1="186.80" x2="133.20" y2="190.40" stroke="#1e1e1e" stroke-width="1.1"/>
<line x1="19.70" y1="164.31" x2="23.30" y2="164.31" stroke="#1e1e1e" stroke-width="1.1"/>
<line x1="150.30" y1="186.80" x2="150.30" y2="190.40" stroke="#1e1e1e" stroke-width="1.1"/>
<line x1="19.70" y1="180.24" x2="23.30" y2="180.24" stroke="#1e1e1e" stroke-width="1.1"/>
<line x1="167.40" y1="186.80" x2="167.40" y2="190.40" stroke="#1e1e1e" stroke-width="1.1"/>
<text x="0" y="0" font-size="9.6" font-weight="bold" text-anchor="middle" fill="#222" textLength="19" lengthAdjust="spacingAndGlyphs" transform="translate(14.50 113.15) rotate(-90)">tSNE2</text>
<text x="97.20" y="201.30" font-size="9.6" text-anchor="middle" font-weight="bold" fill="#222" stroke="#222" stroke-width="0" textLength="18.2" lengthAdjust="spacingAndGlyphs">tSNE1</text>
<g filter="url(#soft)">
<path d="M69.60,114.20 C70.38,112.40 69.63,111.70 72.70,111.20 C75.77,110.70 82.62,111.47 88.00,111.20 C93.38,110.93 100.37,110.12 105.00,109.60 C109.63,109.08 111.70,108.35 115.80,108.10 C119.90,107.85 126.27,107.08 129.60,108.10 C132.93,109.12 135.07,111.88 135.80,114.20 C136.53,116.52 134.27,119.43 134.00,122.00 C133.73,124.57 133.78,127.30 134.20,129.60 C134.62,131.90 136.50,133.48 136.50,135.80 C136.50,138.12 135.35,141.20 134.20,143.50 C133.05,145.80 131.38,147.82 129.60,149.60 C127.82,151.38 126.07,152.40 123.50,154.20 C120.93,156.00 117.28,158.73 114.20,160.40 C111.12,162.07 108.07,163.43 105.00,164.20 C101.93,164.97 98.88,165.38 95.80,165.00 C92.72,164.62 89.07,163.43 86.50,161.90 C83.93,160.37 82.18,158.10 80.40,155.80 C78.62,153.50 76.83,150.93 75.80,148.10 C74.77,145.27 74.83,141.82 74.20,138.80 C73.57,135.78 73.03,132.80 72.00,130.00 C70.97,127.20 68.40,124.63 68.00,122.00 C67.60,119.37 68.82,116.00 69.60,114.20Z" fill="#1a2696" filter="url(#d2)"/>
<path d="M84.00,146.00 C85.50,143.83 89.00,141.17 92.00,140.00 C95.00,138.83 98.83,138.50 102.00,139.00 C105.17,139.50 108.83,141.17 111.00,143.00 C113.17,144.83 114.83,147.67 115.00,150.00 C115.17,152.33 113.83,154.92 112.00,157.00 C110.17,159.08 106.83,161.42 104.00,162.50 C101.17,163.58 97.83,163.92 95.00,163.50 C92.17,163.08 89.00,161.75 87.00,160.00 C85.00,158.25 83.50,155.33 83.00,153.00 C82.50,150.67 82.50,148.17 84.00,146.00Z" fill="#1a2696" filter="url(#d3)"/>
<path d="M75.00,113.00 C77.00,112.00 83.83,112.08 88.00,112.00 C92.17,111.92 97.33,111.83 100.00,112.50 C102.67,113.17 104.00,114.58 104.00,116.00 C104.00,117.42 102.00,119.83 100.00,121.00 C98.00,122.17 95.00,122.83 92.00,123.00 C89.00,123.17 84.67,122.83 82.00,122.00 C79.33,121.17 77.17,119.50 76.00,118.00 C74.83,116.50 73.00,114.00 75.00,113.00Z" fill="#1a2696" filter="url(#d1)"/>
<path d="M106.00,110.00 C107.83,108.42 114.07,108.75 118.00,108.50 C121.93,108.25 126.77,107.67 129.60,108.50 C132.43,109.33 134.35,111.58 135.00,113.50 C135.65,115.42 135.17,118.67 133.50,120.00 C131.83,121.33 128.08,121.25 125.00,121.50 C121.92,121.75 118.00,122.08 115.00,121.50 C112.00,120.92 108.50,119.92 107.00,118.00 C105.50,116.08 104.17,111.58 106.00,110.00Z" fill="#1a2696" filter="url(#d0)"/>
<path d="M111.20,126.50 C114.78,125.92 122.67,125.98 126.50,126.50 C130.33,127.02 132.53,128.05 134.20,129.60 C135.87,131.15 136.50,133.48 136.50,135.80 C136.50,138.12 135.35,141.20 134.20,143.50 C133.05,145.80 131.38,147.82 129.60,149.60 C127.82,151.38 125.60,153.30 123.50,154.20 C121.40,155.10 118.92,156.03 117.00,155.00 C115.08,153.97 113.50,150.83 112.00,148.00 C110.50,145.17 109.17,141.00 108.00,138.00 C106.83,135.00 104.47,131.92 105.00,130.00 C105.53,128.08 107.62,127.08 111.20,126.50Z" fill="#1a2696" filter="url(#d0)"/>
<path d="M77.30,129.60 C78.80,128.18 81.72,127.85 85.00,127.50 C88.28,127.15 93.83,127.08 97.00,127.50 C100.17,127.92 103.33,128.25 104.00,130.00 C104.67,131.75 103.00,136.17 101.00,138.00 C99.00,139.83 95.17,140.50 92.00,141.00 C88.83,141.50 84.67,141.83 82.00,141.00 C79.33,140.17 76.78,137.90 76.00,136.00 C75.22,134.10 75.80,131.02 77.30,129.60Z" fill="#1a2696" filter="url(#d1)"/>
<path d="M110.00,125.00 L122.00,124.00 L132.70,123.50" fill="none" stroke="#fff" stroke-opacity="1" stroke-width="1.0" stroke-linecap="round" stroke-linejoin="round"/>
<path d="M87.20,68.50 C88.77,66.82 91.80,66.12 94.60,65.10 C97.40,64.08 101.30,62.73 104.00,62.40 C106.70,62.07 108.33,62.53 110.80,63.10 C113.27,63.67 116.33,64.68 118.80,65.80 C121.27,66.92 123.80,68.23 125.60,69.80 C127.40,71.37 129.05,73.18 129.60,75.20 C130.15,77.22 129.57,79.67 128.90,81.90 C128.23,84.13 126.83,86.58 125.60,88.60 C124.37,90.62 123.52,93.88 121.50,94.00 C119.48,94.12 116.63,89.85 113.50,89.30 C110.37,88.75 105.62,90.37 102.70,90.70 C99.78,91.03 98.47,91.42 96.00,91.30 C93.53,91.18 90.60,90.45 87.90,90.00 C85.20,89.55 81.82,89.27 79.80,88.60 C77.78,87.93 76.25,87.12 75.80,86.00 C75.35,84.88 76.20,83.03 77.10,81.90 C78.00,80.77 79.85,80.32 81.20,79.20 C82.55,78.08 84.20,76.98 85.20,75.20 C86.20,73.42 85.63,70.18 87.20,68.50Z" fill="#1a2696" filter="url(#d2)"/>
<path d="M87.50,67.50 C89.10,66.18 91.85,65.95 94.60,65.10 C97.35,64.25 101.93,62.58 104.00,62.40 C106.07,62.22 106.67,62.57 107.00,64.00 C107.33,65.43 106.50,68.50 106.00,71.00 C105.50,73.50 105.17,76.83 104.00,79.00 C102.83,81.17 101.00,83.17 99.00,84.00 C97.00,84.83 94.17,84.67 92.00,84.00 C89.83,83.33 87.17,81.83 86.00,80.00 C84.83,78.17 84.75,75.08 85.00,73.00 C85.25,70.92 85.90,68.82 87.50,67.50Z" fill="#1a2696" filter="url(#d0)"/>
<path d="M110.80,63.10 C111.93,62.90 116.33,64.68 118.80,65.80 C121.27,66.92 123.80,68.23 125.60,69.80 C127.40,71.37 129.05,73.18 129.60,75.20 C130.15,77.22 129.57,79.67 128.90,81.90 C128.23,84.13 126.83,86.58 125.60,88.60 C124.37,90.62 123.02,93.93 121.50,94.00 C119.98,94.07 117.67,91.00 116.50,89.00 C115.33,87.00 114.92,84.50 114.50,82.00 C114.08,79.50 114.42,76.50 114.00,74.00 C113.58,71.50 112.53,68.82 112.00,67.00 C111.47,65.18 109.67,63.30 110.80,63.10Z" fill="#1a2696" filter="url(#d0)"/>
<path d="M73.10,67.10 C73.78,65.75 76.48,64.10 78.50,63.10 C80.52,62.10 82.97,61.55 85.20,61.10 C87.43,60.65 90.45,60.30 91.90,60.40 C93.35,60.50 94.35,60.92 93.90,61.70 C93.45,62.48 90.88,64.08 89.20,65.10 C87.52,66.12 85.58,66.78 83.80,67.80 C82.02,68.82 80.07,70.63 78.50,71.20 C76.93,71.77 75.30,71.88 74.40,71.20 C73.50,70.52 72.42,68.45 73.10,67.10Z" fill="#1a2696" filter="url(#d1)"/>
<path d="M72.50,74.00 C73.08,71.92 74.75,71.83 76.00,71.50 C77.25,71.17 78.67,71.25 80.00,72.00 C81.33,72.75 83.50,74.00 84.00,76.00 C84.50,78.00 83.67,81.83 83.00,84.00 C82.33,86.17 81.33,88.17 80.00,89.00 C78.67,89.83 76.25,89.83 75.00,89.00 C73.75,88.17 72.92,86.50 72.50,84.00 C72.08,81.50 71.92,76.08 72.50,74.00Z" fill="#1a2696" filter="url(#d3)"/>
<path d="M86.50,100.80 C87.40,99.02 89.20,96.98 91.90,95.40 C94.60,93.82 99.10,92.32 102.70,91.30 C106.30,90.28 110.78,89.60 113.50,89.30 C116.22,89.00 117.75,88.88 119.00,89.50 C120.25,90.12 121.03,90.90 121.00,93.00 C120.97,95.10 120.73,99.68 118.80,102.10 C116.87,104.52 112.77,106.03 109.40,107.50 C106.03,108.97 101.73,110.45 98.60,110.90 C95.47,111.35 92.62,111.00 90.60,110.20 C88.58,109.40 87.18,107.67 86.50,106.10 C85.82,104.53 85.60,102.58 86.50,100.80Z" fill="#fff" stroke="#fff" stroke-width="2.6" stroke-opacity="0.85"/>
<path d="M86.50,100.80 C87.40,99.02 89.20,96.98 91.90,95.40 C94.60,93.82 99.10,92.32 102.70,91.30 C106.30,90.28 110.37,89.52 113.50,89.30 C116.63,89.08 119.72,88.98 121.50,90.00 C123.28,91.02 124.65,93.38 124.20,95.40 C123.75,97.42 121.27,100.08 118.80,102.10 C116.33,104.12 112.77,106.03 109.40,107.50 C106.03,108.97 101.73,110.45 98.60,110.90 C95.47,111.35 92.62,111.00 90.60,110.20 C88.58,109.40 87.18,107.67 86.50,106.10 C85.82,104.53 85.60,102.58 86.50,100.80Z" fill="#1a2696" filter="url(#d0)"/>
<path d="M124.00,94.00 C125.17,92.43 128.03,94.02 130.00,94.60 C131.97,95.18 134.97,95.93 135.80,97.50 C136.63,99.07 136.13,102.25 135.00,104.00 C133.87,105.75 131.00,108.00 129.00,108.00 C127.00,108.00 123.83,106.33 123.00,104.00 C122.17,101.67 122.83,95.57 124.00,94.00Z" fill="#1a2696" filter="url(#d2)"/>
<path d="M145.20,103.30 C147.12,102.97 148.70,103.88 150.00,105.00 C151.30,106.12 152.50,108.17 153.00,110.00 C153.50,111.83 153.50,114.17 153.00,116.00 C152.50,117.83 151.33,119.95 150.00,121.00 C148.67,122.05 146.67,122.47 145.00,122.30 C143.33,122.13 141.25,121.38 140.00,120.00 C138.75,118.62 137.75,116.17 137.50,114.00 C137.25,111.83 137.22,108.78 138.50,107.00 C139.78,105.22 143.28,103.63 145.20,103.30Z" fill="#1a2696" filter="url(#d0)"/>
<path d="M55.00,90.60 C56.67,90.02 58.58,91.52 60.00,92.50 C61.42,93.48 62.70,95.08 63.50,96.50 C64.30,97.92 64.63,99.00 64.80,101.00 C64.97,103.00 65.18,106.10 64.50,108.50 C63.82,110.90 62.28,114.40 60.70,115.40 C59.12,116.40 56.78,115.07 55.00,114.50 C53.22,113.93 51.33,113.08 50.00,112.00 C48.67,110.92 47.42,109.67 47.00,108.00 C46.58,106.33 47.00,104.00 47.50,102.00 C48.00,100.00 48.75,97.90 50.00,96.00 C51.25,94.10 53.33,91.18 55.00,90.60Z" fill="#1a2696" filter="url(#d1)"/>
<path d="M48.10,121.70 C49.35,120.93 52.80,121.23 55.00,122.30 C57.20,123.37 59.67,126.27 61.30,128.10 C62.93,129.93 64.32,131.28 64.80,133.30 C65.28,135.32 63.33,137.62 64.20,140.20 C65.07,142.78 69.13,146.30 70.00,148.80 C70.87,151.30 70.17,153.75 69.40,155.20 C68.63,156.65 67.42,157.32 65.40,157.50 C63.38,157.68 59.23,157.93 57.30,156.30 C55.37,154.67 54.57,149.90 53.80,147.70 C53.03,145.50 53.47,145.22 52.70,143.10 C51.93,140.98 50.07,137.70 49.20,135.00 C48.33,132.30 47.68,129.12 47.50,126.90 C47.32,124.68 46.85,122.47 48.10,121.70Z" fill="#1a2696" filter="url(#d0)"/>
<path d="M71.00,95.40 C71.47,94.52 74.10,93.63 75.80,93.40 C77.50,93.17 79.97,93.23 81.20,94.00 C82.43,94.77 83.65,97.10 83.20,98.00 C82.75,98.90 80.20,99.28 78.50,99.40 C76.80,99.52 74.25,99.37 73.00,98.70 C71.75,98.03 70.53,96.28 71.00,95.40Z" fill="#1a2696" filter="url(#d0)"/>
<path d="M126.50,154.20 C126.83,153.53 127.75,153.03 129.00,154.00 C130.25,154.97 133.13,158.42 134.00,160.00 C134.87,161.58 134.70,163.00 134.20,163.50 C133.70,164.00 132.20,163.92 131.00,163.00 C129.80,162.08 127.75,159.47 127.00,158.00 C126.25,156.53 126.17,154.87 126.50,154.20Z" fill="#1a2696" filter="url(#d0)"/>
<path d="M137.00,137.00 C137.58,135.58 139.83,135.83 141.00,136.50 C142.17,137.17 143.58,138.92 144.00,141.00 C144.42,143.08 144.17,147.50 143.50,149.00 C142.83,150.50 141.00,150.67 140.00,150.00 C139.00,149.33 138.00,147.17 137.50,145.00 C137.00,142.83 136.42,138.42 137.00,137.00Z" fill="#1a2696" filter="url(#d3)"/>
<line x1="137.80" y1="82.80" x2="144.20" y2="91.00" stroke="#1a2696" stroke-width="1.3" stroke-linecap="round"/>
<path d="M59.20,76.70 C59.70,76.45 61.03,77.28 62.00,78.00 C62.97,78.72 64.28,79.92 65.00,81.00 C65.72,82.08 66.63,83.77 66.30,84.50 C65.97,85.23 64.05,85.65 63.00,85.40 C61.95,85.15 60.67,83.98 60.00,83.00 C59.33,82.02 59.13,80.55 59.00,79.50 C58.87,78.45 58.70,76.95 59.20,76.70Z" fill="#ee8a2e" filter="url(#dor)"/>
<path d="M59.00,81.50 C59.53,81.22 60.95,81.33 62.00,81.80 C63.05,82.27 64.93,83.65 65.30,84.30 C65.67,84.95 65.00,85.58 64.20,85.70 C63.40,85.82 61.40,85.37 60.50,85.00 C59.60,84.63 59.05,84.08 58.80,83.50 C58.55,82.92 58.47,81.78 59.00,81.50Z" fill="#1a2696" filter="url(#d0)"/>
<path d="M69.50,84.00 C69.92,83.22 70.77,82.97 71.50,83.30 C72.23,83.63 73.57,84.88 73.90,86.00 C74.23,87.12 73.82,88.83 73.50,90.00 C73.18,91.17 72.58,92.67 72.00,93.00 C71.42,93.33 70.50,92.83 70.00,92.00 C69.50,91.17 69.08,89.33 69.00,88.00 C68.92,86.67 69.08,84.78 69.50,84.00Z" fill="#ee8a2e" filter="url(#dor)"/>
<circle cx="41.0" cy="131.5" r="0.55" fill="#1a2696" fill-opacity="0.8"/>
<circle cx="42.2" cy="133.5" r="0.55" fill="#1a2696" fill-opacity="0.8"/>
<circle cx="66.0" cy="118.0" r="0.55" fill="#1a2696" fill-opacity="0.8"/>
<circle cx="68.0" cy="121.0" r="0.55" fill="#1a2696" fill-opacity="0.8"/>
<circle cx="65.5" cy="124.5" r="0.55" fill="#1a2696" fill-opacity="0.8"/>
<circle cx="70.0" cy="127.0" r="0.55" fill="#1a2696" fill-opacity="0.8"/>
<circle cx="75.0" cy="103.0" r="0.55" fill="#1a2696" fill-opacity="0.8"/>
<circle cx="78.0" cy="106.5" r="0.55" fill="#1a2696" fill-opacity="0.8"/>
<circle cx="73.5" cy="107.5" r="0.55" fill="#1a2696" fill-opacity="0.8"/>
<circle cx="131.0" cy="121.5" r="0.55" fill="#1a2696" fill-opacity="0.8"/>
<circle cx="134.0" cy="122.3" r="0.55" fill="#1a2696" fill-opacity="0.8"/>
<circle cx="98.0" cy="168.0" r="0.55" fill="#1a2696" fill-opacity="0.8"/>
<circle cx="104.0" cy="167.5" r="0.55" fill="#1a2696" fill-opacity="0.8"/>
<circle cx="139.0" cy="126.0" r="0.55" fill="#1a2696" fill-opacity="0.8"/>
<circle cx="142.0" cy="130.0" r="0.55" fill="#1a2696" fill-opacity="0.8"/>
<circle cx="145.0" cy="135.0" r="0.55" fill="#1a2696" fill-opacity="0.8"/>
<circle cx="67.0" cy="112.0" r="0.55" fill="#1a2696" fill-opacity="0.8"/>
<circle cx="44.0" cy="117.0" r="0.55" fill="#1a2696" fill-opacity="0.8"/>
<circle cx="140.0" cy="95.0" r="0.55" fill="#1a2696" fill-opacity="0.8"/>
<circle cx="136.0" cy="92.0" r="0.55" fill="#1a2696" fill-opacity="0.8"/>
<circle cx="71.0" cy="140.0" r="0.55" fill="#1a2696" fill-opacity="0.8"/>
<circle cx="72.0" cy="145.0" r="0.55" fill="#1a2696" fill-opacity="0.8"/>
<circle cx="90.0" cy="170.0" r="0.55" fill="#1a2696" fill-opacity="0.8"/>
<circle cx="119.0" cy="162.0" r="0.55" fill="#1a2696" fill-opacity="0.8"/>
<circle cx="138.0" cy="152.0" r="0.55" fill="#1a2696" fill-opacity="0.8"/>
</g>
<line x1="195.00" y1="33.30" x2="340.60" y2="33.30" stroke="#2a2a2a" stroke-width="1.0"/>
<text x="267.80" y="30.80" font-size="8" text-anchor="middle" font-weight="normal" fill="#222" stroke="#222" stroke-width="0.18">TBD</text>
<rect x="194.00" y="39.70" width="148.00" height="147.10" fill="none" stroke="#1e1e1e" stroke-width="1.2"/>
<line x1="190.40" y1="52.80" x2="194.00" y2="52.80" stroke="#1e1e1e" stroke-width="1.1"/>
<line x1="201.30" y1="186.80" x2="201.30" y2="190.40" stroke="#1e1e1e" stroke-width="1.1"/>
<line x1="190.40" y1="68.73" x2="194.00" y2="68.73" stroke="#1e1e1e" stroke-width="1.1"/>
<line x1="218.40" y1="186.80" x2="218.40" y2="190.40" stroke="#1e1e1e" stroke-width="1.1"/>
<line x1="190.40" y1="84.66" x2="194.00" y2="84.66" stroke="#1e1e1e" stroke-width="1.1"/>
<line x1="235.50" y1="186.80" x2="235.50" y2="190.40" stroke="#1e1e1e" stroke-width="1.1"/>
<line x1="190.40" y1="100.59" x2="194.00" y2="100.59" stroke="#1e1e1e" stroke-width="1.1"/>
<line x1="252.60" y1="186.80" x2="252.60" y2="190.40" stroke="#1e1e1e" stroke-width="1.1"/>
<line x1="190.40" y1="116.52" x2="194.00" y2="116.52" stroke="#1e1e1e" stroke-width="1.1"/>
<line x1="269.70" y1="186.80" x2="269.70" y2="190.40" stroke="#1e1e1e" stroke-width="1.1"/>
<line x1="190.40" y1="132.45" x2="194.00" y2="132.45" stroke="#1e1e1e" stroke-width="1.1"/>
<line x1="286.80" y1="186.80" x2="286.80" y2="190.40" stroke="#1e1e1e" stroke-width="1.1"/>
<line x1="190.40" y1="148.38" x2="194.00" y2="148.38" stroke="#1e1e1e" stroke-width="1.1"/>
<line x1="303.90" y1="186.80" x2="303.90" y2="190.40" stroke="#1e1e1e" stroke-width="1.1"/>
<line x1="190.40" y1="164.31" x2="194.00" y2="164.31" stroke="#1e1e1e" stroke-width="1.1"/>
<line x1="321.00" y1="186.80" x2="321.00" y2="190.40" stroke="#1e1e1e" stroke-width="1.1"/>
<line x1="190.40" y1="180.24" x2="194.00" y2="180.24" stroke="#1e1e1e" stroke-width="1.1"/>
<line x1="338.10" y1="186.80" x2="338.10" y2="190.40" stroke="#1e1e1e" stroke-width="1.1"/>
<text x="0" y="0" font-size="9.6" font-weight="bold" text-anchor="middle" fill="#222" textLength="19" lengthAdjust="spacingAndGlyphs" transform="translate(185.00 113.15) rotate(-90)">tSNE2</text>
<text x="268.00" y="201.30" font-size="9.6" text-anchor="middle" font-weight="bold" fill="#222" stroke="#222" stroke-width="0" textLength="18.2" lengthAdjust="spacingAndGlyphs">tSNE1</text>
<g filter="url(#soft)">
<path d="M245.40,72.50 C246.97,69.18 249.63,65.12 252.10,63.10 C254.57,61.08 256.62,60.63 260.20,60.40 C263.78,60.17 269.57,61.03 273.60,61.70 C277.63,62.37 281.03,63.27 284.40,64.40 C287.77,65.53 291.33,66.70 293.80,68.50 C296.27,70.30 298.30,72.73 299.20,75.20 C300.10,77.67 299.87,80.83 299.20,83.30 C298.53,85.77 296.77,87.98 295.20,90.00 C293.63,92.02 291.60,93.83 289.80,95.40 C288.00,96.97 285.97,98.05 284.40,99.40 C282.83,100.75 282.20,102.38 280.40,103.50 C278.60,104.62 276.07,105.55 273.60,106.10 C271.13,106.65 267.83,107.23 265.60,106.80 C263.37,106.37 261.55,104.95 260.20,103.50 C258.85,102.05 258.70,99.68 257.50,98.10 C256.30,96.52 254.92,95.18 253.00,94.00 C251.08,92.82 247.72,92.83 246.00,91.00 C244.28,89.17 242.80,86.08 242.70,83.00 C242.60,79.92 243.83,75.82 245.40,72.50Z" fill="#1a2696" filter="url(#d2)"/>
<path d="M250.00,66.00 C250.83,64.25 253.67,62.43 256.00,61.50 C258.33,60.57 261.07,60.37 264.00,60.40 C266.93,60.43 270.20,61.03 273.60,61.70 C277.00,62.37 281.03,63.27 284.40,64.40 C287.77,65.53 291.33,66.70 293.80,68.50 C296.27,70.30 298.30,72.73 299.20,75.20 C300.10,77.67 299.87,80.83 299.20,83.30 C298.53,85.77 296.57,88.72 295.20,90.00 C293.83,91.28 292.03,91.67 291.00,91.00 C289.97,90.33 289.67,88.00 289.00,86.00 C288.33,84.00 288.17,81.33 287.00,79.00 C285.83,76.67 284.17,73.83 282.00,72.00 C279.83,70.17 276.83,68.83 274.00,68.00 C271.17,67.17 267.83,66.83 265.00,67.00 C262.17,67.17 259.33,68.17 257.00,69.00 C254.67,69.83 252.17,72.50 251.00,72.00 C249.83,71.50 249.17,67.75 250.00,66.00Z" fill="#1a2696" filter="url(#d0)"/>
<path d="M245.40,72.50 C246.62,70.17 248.40,68.08 250.00,67.00 C251.60,65.92 254.00,65.17 255.00,66.00 C256.00,66.83 256.17,69.67 256.00,72.00 C255.83,74.33 255.00,77.67 254.00,80.00 C253.00,82.33 251.50,84.67 250.00,86.00 C248.50,87.33 246.22,88.83 245.00,88.00 C243.78,87.17 242.63,83.58 242.70,81.00 C242.77,78.42 244.18,74.83 245.40,72.50Z" fill="#1a2696" filter="url(#d1)"/>
<path d="M258.00,74.00 C258.92,72.25 261.83,72.50 264.00,72.50 C266.17,72.50 269.50,72.75 271.00,74.00 C272.50,75.25 273.17,78.00 273.00,80.00 C272.83,82.00 271.67,84.83 270.00,86.00 C268.33,87.17 264.92,87.50 263.00,87.00 C261.08,86.50 259.33,85.17 258.50,83.00 C257.67,80.83 257.08,75.75 258.00,74.00Z" fill="#1a2696" filter="url(#d3)"/>
<path d="M260.20,95.40 C261.70,93.90 263.63,91.47 267.00,90.00 C270.37,88.53 276.38,87.50 280.40,86.60 C284.42,85.70 288.42,84.48 291.10,84.60 C293.78,84.72 296.35,85.90 296.50,87.30 C296.65,88.70 294.02,90.98 292.00,93.00 C289.98,95.02 286.33,97.65 284.40,99.40 C282.47,101.15 282.20,102.38 280.40,103.50 C278.60,104.62 276.07,105.55 273.60,106.10 C271.13,106.65 267.83,107.23 265.60,106.80 C263.37,106.37 261.47,104.80 260.20,103.50 C258.93,102.20 258.00,100.35 258.00,99.00 C258.00,97.65 258.70,96.90 260.20,95.40Z" fill="#1a2696" filter="url(#d1)"/>
<path d="M257.50,83.00 L259.00,87.50 L263.00,89.80 L270.00,89.00 L279.00,86.20 L289.00,83.50" fill="none" stroke="#fff" stroke-opacity="0.45" stroke-width="1.5" stroke-linecap="round" stroke-linejoin="round"/>
<path d="M244.00,88.00 C244.83,87.13 247.20,87.05 249.00,87.30 C250.80,87.55 253.97,88.15 254.80,89.50 C255.63,90.85 255.13,94.42 254.00,95.40 C252.87,96.38 249.67,95.88 248.00,95.40 C246.33,94.92 244.67,93.73 244.00,92.50 C243.33,91.27 243.17,88.87 244.00,88.00Z" fill="#1a2696" filter="url(#d0)"/>
<path d="M225.80,90.50 C227.43,89.30 230.63,89.30 232.50,89.80 C234.37,90.30 235.95,91.63 237.00,93.50 C238.05,95.37 238.72,98.42 238.80,101.00 C238.88,103.58 238.47,106.75 237.50,109.00 C236.53,111.25 234.75,113.50 233.00,114.50 C231.25,115.50 228.67,115.42 227.00,115.00 C225.33,114.58 223.80,113.67 223.00,112.00 C222.20,110.33 222.25,107.50 222.20,105.00 C222.15,102.50 222.10,99.42 222.70,97.00 C223.30,94.58 224.17,91.70 225.80,90.50Z" fill="#1a2696" filter="url(#d0)"/>
<path d="M222.50,104.00 C223.22,102.83 225.92,103.83 227.00,105.00 C228.08,106.17 229.17,109.33 229.00,111.00 C228.83,112.67 227.05,114.83 226.00,115.00 C224.95,115.17 223.28,113.83 222.70,112.00 C222.12,110.17 221.78,105.17 222.50,104.00Z" fill="#1a2696" filter="url(#d2)"/>
<path d="M244.60,105.00 C244.93,103.93 246.43,104.10 247.00,104.60 C247.57,105.10 248.03,106.65 248.00,108.00 C247.97,109.35 247.30,112.20 246.80,112.70 C246.30,113.20 245.37,112.28 245.00,111.00 C244.63,109.72 244.27,106.07 244.60,105.00Z" fill="#1a2696" filter="url(#d1)"/>
<path d="M302.30,101.20 C303.47,98.70 309.22,101.20 312.00,102.00 C314.78,102.80 317.17,104.33 319.00,106.00 C320.83,107.67 322.67,109.83 323.00,112.00 C323.33,114.17 322.67,117.53 321.00,119.00 C319.33,120.47 315.67,121.13 313.00,120.80 C310.33,120.47 306.78,120.27 305.00,117.00 C303.22,113.73 301.13,103.70 302.30,101.20Z" fill="#1a2696" filter="url(#d3)"/>
<path d="M284.00,101.50 L290.00,97.20 L297.50,93.00" fill="none" stroke="#fff" stroke-opacity="1" stroke-width="1.4" stroke-linecap="round" stroke-linejoin="round"/>
<path d="M293.80,95.00 C295.03,94.00 296.10,93.93 297.90,94.00 C299.70,94.07 303.03,94.27 304.60,95.40 C306.17,96.53 307.07,98.57 307.30,100.80 C307.53,103.03 307.22,107.02 306.00,108.80 C304.78,110.58 302.00,111.30 300.00,111.50 C298.00,111.70 295.75,110.92 294.00,110.00 C292.25,109.08 290.08,107.67 289.50,106.00 C288.92,104.33 289.78,101.83 290.50,100.00 C291.22,98.17 292.57,96.00 293.80,95.00Z" fill="#1a2696" filter="url(#d0)"/>
<path d="M277.00,109.00 C278.00,108.08 281.33,107.17 283.00,107.50 C284.67,107.83 286.50,109.42 287.00,111.00 C287.50,112.58 287.17,116.00 286.00,117.00 C284.83,118.00 281.50,117.67 280.00,117.00 C278.50,116.33 277.50,114.33 277.00,113.00 C276.50,111.67 276.00,109.92 277.00,109.00Z" fill="#1a2696" filter="url(#d0)"/>
<path d="M240.00,112.00 L255.00,110.60 L268.00,110.70 L278.00,110.50" fill="none" stroke="#fff" stroke-opacity="1" stroke-width="1.3" stroke-linecap="round" stroke-linejoin="round"/>
<path d="M237.70,116.20 C238.67,114.08 241.52,112.47 244.60,111.50 C247.68,110.53 251.97,110.40 256.20,110.40 C260.43,110.40 266.17,111.12 270.00,111.50 C273.83,111.88 276.12,111.92 279.20,112.70 C282.28,113.48 285.80,114.67 288.50,116.20 C291.20,117.73 293.48,119.40 295.40,121.90 C297.32,124.40 299.03,127.73 300.00,131.20 C300.97,134.67 301.58,139.25 301.20,142.70 C300.82,146.15 299.43,149.22 297.70,151.90 C295.97,154.58 293.88,156.87 290.80,158.80 C287.72,160.73 283.05,162.53 279.20,163.50 C275.35,164.47 271.53,164.80 267.70,164.60 C263.87,164.40 259.28,163.65 256.20,162.30 C253.12,160.95 251.13,159.00 249.20,156.50 C247.27,154.00 245.75,150.75 244.60,147.30 C243.45,143.85 243.27,139.65 242.30,135.80 C241.33,131.95 239.57,127.47 238.80,124.20 C238.03,120.93 236.73,118.32 237.70,116.20Z" fill="#1a2696" filter="url(#d0)"/>
<path d="M240.00,116.00 C240.00,114.17 243.30,112.75 246.00,112.00 C248.70,111.25 252.20,111.42 256.20,111.50 C260.20,111.58 266.03,112.08 270.00,112.50 C273.97,112.92 277.33,113.08 280.00,114.00 C282.67,114.92 285.67,116.33 286.00,118.00 C286.33,119.67 284.67,122.83 282.00,124.00 C279.33,125.17 274.33,124.92 270.00,125.00 C265.67,125.08 260.00,124.83 256.00,124.50 C252.00,124.17 248.67,124.42 246.00,123.00 C243.33,121.58 240.00,117.83 240.00,116.00Z" fill="#1a2696" filter="url(#d1)"/>
<path d="M286.00,119.60 C286.50,118.10 290.92,119.60 293.00,121.00 C295.08,122.40 297.17,125.33 298.50,128.00 C299.83,130.67 300.75,134.50 301.00,137.00 C301.25,139.50 301.00,142.67 300.00,143.00 C299.00,143.33 296.67,141.17 295.00,139.00 C293.33,136.83 291.50,133.23 290.00,130.00 C288.50,126.77 285.50,121.10 286.00,119.60Z" fill="#1a2696" filter="url(#d2)"/>
<path d="M296.00,131.00 C296.50,128.33 300.67,128.50 303.00,129.00 C305.33,129.50 308.33,132.00 310.00,134.00 C311.67,136.00 313.33,138.83 313.00,141.00 C312.67,143.17 310.17,146.33 308.00,147.00 C305.83,147.67 302.00,147.67 300.00,145.00 C298.00,142.33 295.50,133.67 296.00,131.00Z" fill="#1a2696" filter="url(#d3)"/>
<path d="M292.00,163.50 C292.50,162.08 297.00,159.58 300.00,157.00 C303.00,154.42 307.25,150.97 310.00,148.00 C312.75,145.03 314.92,140.28 316.50,139.20 C318.08,138.12 319.58,140.03 319.50,141.50 C319.42,142.97 318.08,145.33 316.00,148.00 C313.92,150.67 310.17,154.58 307.00,157.50 C303.83,160.42 299.50,164.50 297.00,165.50 C294.50,166.50 291.50,164.92 292.00,163.50Z" fill="#1a2696" filter="url(#d0)"/>
<path d="M223.80,126.50 C225.72,125.35 230.30,128.50 233.00,131.20 C235.70,133.90 238.63,138.87 240.00,142.70 C241.37,146.53 241.97,151.90 241.20,154.20 C240.43,156.50 237.90,157.27 235.40,156.50 C232.90,155.73 228.52,152.67 226.20,149.60 C223.88,146.53 221.90,141.95 221.50,138.10 C221.10,134.25 221.88,127.65 223.80,126.50Z" fill="#1a2696" filter="url(#d2)"/>
<path d="M226.00,141.00 C226.83,139.00 230.75,138.17 233.00,139.00 C235.25,139.83 238.25,143.50 239.50,146.00 C240.75,148.50 241.18,152.25 240.50,154.00 C239.82,155.75 237.48,157.00 235.40,156.50 C233.32,156.00 229.57,153.58 228.00,151.00 C226.43,148.42 225.17,143.00 226.00,141.00Z" fill="#1a2696" filter="url(#d1)"/>
<path d="M212.30,130.00 C212.68,129.42 214.22,129.73 214.60,130.50 C214.98,131.27 214.98,134.02 214.60,134.60 C214.22,135.18 212.68,134.77 212.30,134.00 C211.92,133.23 211.92,130.58 212.30,130.00Z" fill="#1a2696" filter="url(#d0)"/>
<path d="M306.00,119.00 C306.33,118.52 307.67,118.52 308.00,119.00 C308.33,119.48 308.33,121.42 308.00,121.90 C307.67,122.38 306.33,122.38 306.00,121.90 C305.67,121.42 305.67,119.48 306.00,119.00Z" fill="#1a2696" filter="url(#d0)"/>
<line x1="308.80" y1="82.30" x2="314.50" y2="90.50" stroke="#1a2696" stroke-width="1.3" stroke-linecap="round"/>
<path d="M230.30,79.80 C230.63,79.50 231.77,79.58 232.80,80.20 C233.83,80.82 235.30,82.45 236.50,83.50 C237.70,84.55 239.08,85.67 240.00,86.50 C240.92,87.33 241.87,87.87 242.00,88.50 C242.13,89.13 241.55,90.38 240.80,90.30 C240.05,90.22 238.72,88.97 237.50,88.00 C236.28,87.03 234.62,85.50 233.50,84.50 C232.38,83.50 231.33,82.78 230.80,82.00 C230.27,81.22 229.97,80.10 230.30,79.80Z" fill="#ee8a2e"/>
<path d="M244.30,82.60 C244.77,82.53 245.73,82.78 245.60,83.60 C245.47,84.42 244.27,86.18 243.50,87.50 C242.73,88.82 241.75,90.25 241.00,91.50 C240.25,92.75 239.57,94.08 239.00,95.00 C238.43,95.92 237.95,96.83 237.60,97.00 C237.25,97.17 236.83,96.83 236.90,96.00 C236.97,95.17 237.43,93.42 238.00,92.00 C238.57,90.58 239.50,88.83 240.30,87.50 C241.10,86.17 242.13,84.82 242.80,84.00 C243.47,83.18 243.83,82.67 244.30,82.60Z" fill="#ee8a2e"/>
<path d="M233.00,88.80 C233.42,88.38 234.87,88.22 235.50,88.50 C236.13,88.78 236.88,89.87 236.80,90.50 C236.72,91.13 235.63,92.22 235.00,92.30 C234.37,92.38 233.33,91.58 233.00,91.00 C232.67,90.42 232.58,89.22 233.00,88.80Z" fill="#1a2696" filter="url(#d0)"/>
<circle cx="257.0" cy="162.6" r="0.55" fill="#1a2696" fill-opacity="0.8"/>
<circle cx="275.8" cy="172.7" r="0.55" fill="#1a2696" fill-opacity="0.8"/>
<circle cx="245.5" cy="109.2" r="0.55" fill="#1a2696" fill-opacity="0.8"/>
<circle cx="216.0" cy="125.0" r="0.55" fill="#1a2696" fill-opacity="0.8"/>
<circle cx="219.0" cy="128.0" r="0.55" fill="#1a2696" fill-opacity="0.8"/>
<circle cx="230.0" cy="120.0" r="0.55" fill="#1a2696" fill-opacity="0.8"/>
<circle cx="233.0" cy="123.0" r="0.55" fill="#1a2696" fill-opacity="0.8"/>
<circle cx="305.0" cy="125.0" r="0.55" fill="#1a2696" fill-opacity="0.8"/>
<circle cx="310.0" cy="128.0" r="0.55" fill="#1a2696" fill-opacity="0.8"/>
<circle cx="250.0" cy="167.0" r="0.55" fill="#1a2696" fill-opacity="0.8"/>
<circle cx="262.0" cy="170.0" r="0.55" fill="#1a2696" fill-opacity="0.8"/>
<circle cx="300.0" cy="90.0" r="0.55" fill="#1a2696" fill-opacity="0.8"/>
<circle cx="303.0" cy="88.0" r="0.55" fill="#1a2696" fill-opacity="0.8"/>
<circle cx="239.0" cy="112.0" r="0.55" fill="#1a2696" fill-opacity="0.8"/>
<circle cx="231.0" cy="158.0" r="0.55" fill="#1a2696" fill-opacity="0.8"/>
<circle cx="227.0" cy="161.0" r="0.55" fill="#1a2696" fill-opacity="0.8"/>
<circle cx="286.0" cy="170.0" r="0.55" fill="#1a2696" fill-opacity="0.8"/>
<circle cx="320.0" cy="125.0" r="0.55" fill="#1a2696" fill-opacity="0.8"/>
<circle cx="240.0" cy="104.0" r="0.55" fill="#1a2696" fill-opacity="0.8"/>
<circle cx="236.0" cy="106.0" r="0.55" fill="#1a2696" fill-opacity="0.8"/>
</g>
<line x1="195.40" y1="443.80" x2="341.50" y2="443.80" stroke="#2a2a2a" stroke-width="1.0"/>
<text x="268.45" y="441.30" font-size="8" text-anchor="middle" font-weight="normal" fill="#222" stroke="#222" stroke-width="0.18">Healthy</text>
<rect x="194.20" y="450.10" width="148.40" height="147.00" fill="none" stroke="#1e1e1e" stroke-width="1.2"/>
<line x1="190.60" y1="459.60" x2="194.20" y2="459.60" stroke="#1e1e1e" stroke-width="1.1"/>
<line x1="201.80" y1="597.10" x2="201.80" y2="600.70" stroke="#1e1e1e" stroke-width="1.1"/>
<line x1="190.60" y1="475.53" x2="194.20" y2="475.53" stroke="#1e1e1e" stroke-width="1.1"/>
<line x1="218.90" y1="597.10" x2="218.90" y2="600.70" stroke="#1e1e1e" stroke-width="1.1"/>
<line x1="190.60" y1="491.46" x2="194.20" y2="491.46" stroke="#1e1e1e" stroke-width="1.1"/>
<line x1="236.00" y1="597.10" x2="236.00" y2="600.70" stroke="#1e1e1e" stroke-width="1.1"/>
<line x1="190.60" y1="507.39" x2="194.20" y2="507.39" stroke="#1e1e1e" stroke-width="1.1"/>
<line x1="253.10" y1="597.10" x2="253.10" y2="600.70" stroke="#1e1e1e" stroke-width="1.1"/>
<line x1="190.60" y1="523.32" x2="194.20" y2="523.32" stroke="#1e1e1e" stroke-width="1.1"/>
<line x1="270.20" y1="597.10" x2="270.20" y2="600.70" stroke="#1e1e1e" stroke-width="1.1"/>
<line x1="190.60" y1="539.25" x2="194.20" y2="539.25" stroke="#1e1e1e" stroke-width="1.1"/>
<line x1="287.30" y1="597.10" x2="287.30" y2="600.70" stroke="#1e1e1e" stroke-width="1.1"/>
<line x1="190.60" y1="555.18" x2="194.20" y2="555.18" stroke="#1e1e1e" stroke-width="1.1"/>
<line x1="304.40" y1="597.10" x2="304.40" y2="600.70" stroke="#1e1e1e" stroke-width="1.1"/>
<line x1="190.60" y1="571.11" x2="194.20" y2="571.11" stroke="#1e1e1e" stroke-width="1.1"/>
<line x1="321.50" y1="597.10" x2="321.50" y2="600.70" stroke="#1e1e1e" stroke-width="1.1"/>
<line x1="190.60" y1="587.04" x2="194.20" y2="587.04" stroke="#1e1e1e" stroke-width="1.1"/>
<line x1="338.60" y1="597.10" x2="338.60" y2="600.70" stroke="#1e1e1e" stroke-width="1.1"/>
<text x="0" y="0" font-size="9.6" font-weight="bold" text-anchor="middle" fill="#222" textLength="19" lengthAdjust="spacingAndGlyphs" transform="translate(185.20 523.50) rotate(-90)">tSNE2</text>
<text x="268.00" y="611.70" font-size="9.6" text-anchor="middle" font-weight="bold" fill="#222" stroke="#222" stroke-width="0" textLength="18.2" lengthAdjust="spacingAndGlyphs">tSNE1</text>
<g filter="url(#soft)">
<path d="M227.90,484.90 C229.58,484.00 231.73,483.42 233.30,484.20 C234.87,484.98 236.30,487.58 237.30,489.60 C238.30,491.62 238.63,494.05 239.30,496.30 C239.97,498.55 241.63,501.30 241.30,503.10 C240.97,504.90 239.08,506.32 237.30,507.10 C235.52,507.88 232.62,508.47 230.60,507.80 C228.58,507.13 226.67,505.02 225.20,503.10 C223.73,501.18 222.13,498.55 221.80,496.30 C221.47,494.05 222.18,491.50 223.20,489.60 C224.22,487.70 226.22,485.80 227.90,484.90Z" fill="#1a2696" filter="url(#d2)"/>
<path d="M227.90,484.90 C229.70,483.43 231.87,483.52 233.30,484.20 C234.73,484.88 236.05,486.87 236.50,489.00 C236.95,491.13 236.58,494.50 236.00,497.00 C235.42,499.50 234.33,502.67 233.00,504.00 C231.67,505.33 229.50,505.67 228.00,505.00 C226.50,504.33 224.92,502.00 224.00,500.00 C223.08,498.00 221.85,495.52 222.50,493.00 C223.15,490.48 226.10,486.37 227.90,484.90Z" fill="#1a2696" filter="url(#d0)"/>
<path d="M245.00,500.00 C246.17,498.17 248.17,496.17 250.00,497.00 C251.83,497.83 255.33,502.67 256.00,505.00 C256.67,507.33 255.33,509.83 254.00,511.00 C252.67,512.17 249.83,512.50 248.00,512.00 C246.17,511.50 243.50,510.00 243.00,508.00 C242.50,506.00 243.83,501.83 245.00,500.00Z" fill="#1a2696" filter="url(#d3)"/>
<path d="M252.10,481.50 C253.43,479.93 256.33,478.28 258.80,477.50 C261.27,476.72 264.65,476.58 266.90,476.80 C269.15,477.02 270.98,477.12 272.30,478.80 C273.62,480.48 274.38,484.20 274.80,486.90 C275.22,489.60 275.13,492.53 274.80,495.00 C274.47,497.47 273.92,499.68 272.80,501.70 C271.68,503.72 270.23,505.97 268.10,507.10 C265.97,508.23 262.68,508.52 260.00,508.50 C257.32,508.48 254.17,507.75 252.00,507.00 C249.83,506.25 247.65,506.00 247.00,504.00 C246.35,502.00 247.47,497.85 248.10,495.00 C248.73,492.15 250.13,489.15 250.80,486.90 C251.47,484.65 250.77,483.07 252.10,481.50Z" fill="#1a2696" filter="url(#d2)"/>
<path d="M254.00,481.00 C254.80,479.08 256.65,478.20 258.80,477.50 C260.95,476.80 264.65,476.58 266.90,476.80 C269.15,477.02 270.98,477.12 272.30,478.80 C273.62,480.48 274.38,484.20 274.80,486.90 C275.22,489.60 275.13,492.53 274.80,495.00 C274.47,497.47 273.92,499.68 272.80,501.70 C271.68,503.72 269.90,506.55 268.10,507.10 C266.30,507.65 263.85,506.68 262.00,505.00 C260.15,503.32 258.33,499.67 257.00,497.00 C255.67,494.33 254.50,491.67 254.00,489.00 C253.50,486.33 253.20,482.92 254.00,481.00Z" fill="#1a2696" filter="url(#d0)"/>
<path d="M212.00,505.00 C212.72,503.90 214.92,503.90 216.00,504.40 C217.08,504.90 218.17,506.57 218.50,508.00 C218.83,509.43 218.67,511.80 218.00,513.00 C217.33,514.20 215.55,515.53 214.50,515.20 C213.45,514.87 212.12,512.70 211.70,511.00 C211.28,509.30 211.28,506.10 212.00,505.00Z" fill="#1a2696" filter="url(#d0)"/>
<path d="M222.50,516.50 C223.97,514.35 228.53,513.62 231.90,512.50 C235.27,511.38 239.33,510.92 242.70,509.80 C246.07,508.68 249.63,505.58 252.10,505.80 C254.57,506.02 256.72,509.08 257.50,511.10 C258.28,513.12 256.93,516.42 256.80,517.90 C256.67,519.38 256.93,518.98 256.70,520.00 C256.47,521.02 256.30,522.20 255.40,524.00 C254.50,525.80 253.10,529.00 251.30,530.80 C249.50,532.60 247.28,533.90 244.60,534.80 C241.92,535.70 238.12,536.42 235.20,536.20 C232.28,535.98 229.12,535.30 227.10,533.50 C225.08,531.70 223.87,528.23 223.10,525.40 C222.33,522.57 221.03,518.65 222.50,516.50Z" fill="#1a2696" filter="url(#d2)"/>
<path d="M240.00,514.00 C242.00,512.25 245.98,510.67 248.00,509.50 C250.02,508.33 250.60,506.58 252.10,507.00 C253.60,507.42 256.27,509.67 257.00,512.00 C257.73,514.33 257.45,517.87 256.50,521.00 C255.55,524.13 253.28,528.50 251.30,530.80 C249.32,533.10 247.28,533.90 244.60,534.80 C241.92,535.70 238.12,536.42 235.20,536.20 C232.28,535.98 228.88,534.87 227.10,533.50 C225.32,532.13 224.02,529.58 224.50,528.00 C224.98,526.42 228.08,525.33 230.00,524.00 C231.92,522.67 234.33,521.67 236.00,520.00 C237.67,518.33 238.00,515.75 240.00,514.00Z" fill="#1a2696" filter="url(#d0)"/>
<path d="M258.80,516.50 C260.50,513.67 262.48,512.33 265.60,511.10 C268.72,509.87 273.95,509.20 277.50,509.10 C281.05,509.00 284.22,509.48 286.90,510.50 C289.58,511.52 291.80,513.07 293.60,515.20 C295.40,517.33 296.80,520.80 297.70,523.30 C298.60,525.80 298.78,527.25 299.00,530.20 C299.22,533.15 299.45,537.63 299.00,541.00 C298.55,544.37 297.63,547.32 296.30,550.40 C294.97,553.48 293.22,556.98 291.00,559.50 C288.78,562.02 285.83,564.00 283.00,565.50 C280.17,567.00 276.58,568.00 274.00,568.50 C271.42,569.00 269.75,569.00 267.50,568.50 C265.25,568.00 262.52,567.00 260.50,565.50 C258.48,564.00 256.70,561.92 255.40,559.50 C254.10,557.08 253.03,554.22 252.70,551.00 C252.37,547.78 252.95,544.02 253.40,540.20 C253.85,536.38 254.50,532.05 255.40,528.10 C256.30,524.15 257.10,519.33 258.80,516.50Z" fill="#1a2696" filter="url(#d2)"/>
<path d="M259.00,517.00 C260.10,514.35 262.52,512.42 265.60,511.10 C268.68,509.78 273.95,509.20 277.50,509.10 C281.05,509.00 284.22,509.48 286.90,510.50 C289.58,511.52 291.80,513.07 293.60,515.20 C295.40,517.33 296.80,520.80 297.70,523.30 C298.60,525.80 298.78,527.25 299.00,530.20 C299.22,533.15 299.45,537.63 299.00,541.00 C298.55,544.37 297.63,547.48 296.30,550.40 C294.97,553.32 293.22,556.40 291.00,558.50 C288.78,560.60 284.83,564.08 283.00,563.00 C281.17,561.92 281.50,555.50 280.00,552.00 C278.50,548.50 276.33,545.00 274.00,542.00 C271.67,539.00 268.50,536.50 266.00,534.00 C263.50,531.50 260.17,529.83 259.00,527.00 C257.83,524.17 257.90,519.65 259.00,517.00Z" fill="#1a2696" filter="url(#d1)"/>
<path d="M266.00,512.00 C267.58,510.18 274.02,509.35 277.50,509.10 C280.98,508.85 284.22,509.48 286.90,510.50 C289.58,511.52 291.80,513.07 293.60,515.20 C295.40,517.33 296.80,520.80 297.70,523.30 C298.60,525.80 298.78,527.25 299.00,530.20 C299.22,533.15 299.45,537.63 299.00,541.00 C298.55,544.37 297.47,547.90 296.30,550.40 C295.13,552.90 293.55,556.40 292.00,556.00 C290.45,555.60 288.50,551.00 287.00,548.00 C285.50,545.00 284.83,541.33 283.00,538.00 C281.17,534.67 278.50,531.00 276.00,528.00 C273.50,525.00 269.67,522.67 268.00,520.00 C266.33,517.33 264.42,513.82 266.00,512.00Z" fill="#1a2696" filter="url(#d0)"/>
<path d="M255.00,540.00 C256.42,538.83 259.50,541.33 262.00,543.00 C264.50,544.67 267.83,547.50 270.00,550.00 C272.17,552.50 274.67,555.50 275.00,558.00 C275.33,560.50 273.83,564.00 272.00,565.00 C270.17,566.00 266.50,565.00 264.00,564.00 C261.50,563.00 258.75,561.33 257.00,559.00 C255.25,556.67 253.83,553.17 253.50,550.00 C253.17,546.83 253.58,541.17 255.00,540.00Z" fill="#1a2696" filter="url(#d3)"/>
<path d="M229.80,546.90 C229.92,545.55 230.93,544.87 232.50,544.20 C234.07,543.53 237.18,543.00 239.20,542.90 C241.22,542.80 242.80,542.93 244.60,543.60 C246.40,544.27 248.88,545.45 250.00,546.90 C251.12,548.35 251.30,550.05 251.30,552.30 C251.30,554.55 251.12,558.50 250.00,560.40 C248.88,562.30 247.07,563.15 244.60,563.70 C242.13,564.25 237.22,564.25 235.20,563.70 C233.18,563.15 233.07,562.30 232.50,560.40 C231.93,558.50 232.25,554.55 231.80,552.30 C231.35,550.05 229.68,548.25 229.80,546.90Z" fill="#1a2696" filter="url(#d1)"/>
<path d="M296.30,504.40 C296.75,501.93 298.60,498.32 300.40,496.30 C302.20,494.28 304.63,492.75 307.10,492.30 C309.57,491.85 312.95,492.25 315.20,493.60 C317.45,494.95 319.48,497.92 320.60,500.40 C321.72,502.88 321.45,505.37 321.90,508.50 C322.35,511.63 322.85,516.25 323.30,519.20 C323.75,522.15 324.60,523.47 324.60,526.20 C324.60,528.93 324.65,532.92 323.30,535.60 C321.95,538.28 318.53,540.52 316.50,542.30 C314.47,544.08 312.55,543.83 311.10,546.30 C309.65,548.77 308.48,556.87 307.80,557.10 C307.12,557.33 307.45,550.38 307.00,547.70 C306.55,545.02 305.30,543.70 305.10,541.00 C304.90,538.30 306.13,534.17 305.80,531.50 C305.47,528.83 303.78,527.05 303.10,525.00 C302.42,522.95 302.60,521.52 301.70,519.20 C300.80,516.88 298.60,513.57 297.70,511.10 C296.80,508.63 295.85,506.87 296.30,504.40Z" fill="#1a2696" filter="url(#d2)"/>
<path d="M298.00,503.00 C298.50,500.92 299.50,498.25 301.00,496.50 C302.50,494.75 304.67,492.98 307.00,492.50 C309.33,492.02 313.00,492.52 315.00,493.60 C317.00,494.68 318.83,496.93 319.00,499.00 C319.17,501.07 317.50,504.00 316.00,506.00 C314.50,508.00 312.17,509.83 310.00,511.00 C307.83,512.17 305.00,513.33 303.00,513.00 C301.00,512.67 298.83,510.67 298.00,509.00 C297.17,507.33 297.50,505.08 298.00,503.00Z" fill="#1a2696" filter="url(#d0)"/>
<path d="M306.00,520.00 C306.92,517.50 310.00,517.67 312.00,518.00 C314.00,518.33 316.33,520.00 318.00,522.00 C319.67,524.00 322.00,527.33 322.00,530.00 C322.00,532.67 319.83,536.33 318.00,538.00 C316.17,539.67 312.92,540.83 311.00,540.00 C309.08,539.17 307.33,536.33 306.50,533.00 C305.67,529.67 305.08,522.50 306.00,520.00Z" fill="#1a2696" filter="url(#d1)"/>
<path d="M273.50,470.00 C273.92,469.40 275.88,469.15 277.00,469.40 C278.12,469.65 279.87,470.82 280.20,471.50 C280.53,472.18 279.95,473.25 279.00,473.50 C278.05,473.75 275.42,473.58 274.50,473.00 C273.58,472.42 273.08,470.60 273.50,470.00Z" fill="#1a2696" filter="url(#d0)"/>
<path d="M283.00,474.00 C283.50,473.25 286.45,473.00 288.00,473.50 C289.55,474.00 291.88,476.12 292.30,477.00 C292.72,477.88 291.72,478.63 290.50,478.80 C289.28,478.97 286.25,478.80 285.00,478.00 C283.75,477.20 282.50,474.75 283.00,474.00Z" fill="#1a2696" filter="url(#d0)"/>
<path d="M296.30,480.50 C296.95,480.20 299.78,479.92 300.40,480.20 C301.02,480.48 300.65,481.90 300.00,482.20 C299.35,482.50 297.12,482.28 296.50,482.00 C295.88,481.72 295.65,480.80 296.30,480.50Z" fill="#1a2696" filter="url(#d0)"/>
<path d="M276.20,481.00 C276.37,480.03 278.67,479.87 280.00,480.20 C281.33,480.53 283.70,481.88 284.20,483.00 C284.70,484.12 283.87,486.40 283.00,486.90 C282.13,487.40 280.13,486.98 279.00,486.00 C277.87,485.02 276.03,481.97 276.20,481.00Z" fill="#1a2696" filter="url(#d0)"/>
<path d="M285.60,488.00 C285.93,486.65 288.43,486.57 290.00,486.90 C291.57,487.23 294.33,488.43 295.00,490.00 C295.67,491.57 295.17,495.47 294.00,496.30 C292.83,497.13 289.40,496.38 288.00,495.00 C286.60,493.62 285.27,489.35 285.60,488.00Z" fill="#1a2696" filter="url(#d2)"/>
<path d="M278.80,491.00 C279.45,490.67 282.37,491.07 282.90,491.50 C283.43,491.93 282.65,493.27 282.00,493.60 C281.35,493.93 279.53,493.93 279.00,493.50 C278.47,493.07 278.15,491.33 278.80,491.00Z" fill="#1a2696" filter="url(#d0)"/>
<path d="M282.90,500.40 C283.55,499.90 286.38,500.33 286.90,501.00 C287.42,501.67 286.65,503.90 286.00,504.40 C285.35,504.90 283.52,504.67 283.00,504.00 C282.48,503.33 282.25,500.90 282.90,500.40Z" fill="#1a2696" filter="url(#d0)"/>
<path d="M265.60,469.50 C266.60,469.15 270.43,469.15 272.00,469.40 C273.57,469.65 275.33,470.57 275.00,471.00 C274.67,471.43 271.50,471.92 270.00,472.00 C268.50,472.08 266.73,471.92 266.00,471.50 C265.27,471.08 264.60,469.85 265.60,469.50Z" fill="#1a2696" filter="url(#d1)"/>
<circle cx="218.0" cy="520.0" r="0.55" fill="#1a2696" fill-opacity="0.8"/>
<circle cx="221.0" cy="524.0" r="0.55" fill="#1a2696" fill-opacity="0.8"/>
<circle cx="225.0" cy="540.0" r="0.55" fill="#1a2696" fill-opacity="0.8"/>
<circle cx="227.0" cy="544.0" r="0.55" fill="#1a2696" fill-opacity="0.8"/>
<circle cx="215.0" cy="500.0" r="0.55" fill="#1a2696" fill-opacity="0.8"/>
<circle cx="247.0" cy="480.0" r="0.55" fill="#1a2696" fill-opacity="0.8"/>
<circle cx="250.8" cy="472.1" r="0.55" fill="#1a2696" fill-opacity="0.8"/>
<circle cx="245.4" cy="476.2" r="0.55" fill="#1a2696" fill-opacity="0.8"/>
<circle cx="243.0" cy="484.0" r="0.55" fill="#1a2696" fill-opacity="0.8"/>
<circle cx="302.0" cy="560.0" r="0.55" fill="#1a2696" fill-opacity="0.8"/>
<circle cx="304.0" cy="565.0" r="0.55" fill="#1a2696" fill-opacity="0.8"/>
<circle cx="300.0" cy="548.0" r="0.55" fill="#1a2696" fill-opacity="0.8"/>
<circle cx="296.0" cy="570.0" r="0.55" fill="#1a2696" fill-opacity="0.8"/>
<circle cx="285.0" cy="580.0" r="0.55" fill="#1a2696" fill-opacity="0.8"/>
<circle cx="258.0" cy="573.0" r="0.55" fill="#1a2696" fill-opacity="0.8"/>
<circle cx="254.0" cy="567.0" r="0.55" fill="#1a2696" fill-opacity="0.8"/>
<circle cx="227.0" cy="566.0" r="0.55" fill="#1a2696" fill-opacity="0.8"/>
<circle cx="224.0" cy="560.0" r="0.55" fill="#1a2696" fill-opacity="0.8"/>
<circle cx="292.0" cy="470.0" r="0.55" fill="#1a2696" fill-opacity="0.8"/>
<circle cx="297.0" cy="474.0" r="0.55" fill="#1a2696" fill-opacity="0.8"/>
<circle cx="305.0" cy="487.0" r="0.55" fill="#1a2696" fill-opacity="0.8"/>
<circle cx="326.0" cy="540.0" r="0.55" fill="#1a2696" fill-opacity="0.8"/>
<circle cx="303.0" cy="503.0" r="0.55" fill="#1a2696" fill-opacity="0.8"/>
<circle cx="220.0" cy="535.0" r="0.55" fill="#1a2696" fill-opacity="0.8"/>
<path d="M265.40,570.60 C266.37,569.58 269.03,568.42 270.80,567.90 C272.57,567.38 274.43,567.28 276.00,567.50 C277.57,567.72 279.37,568.45 280.20,569.20 C281.03,569.95 281.00,571.10 281.00,572.00 C281.00,572.90 281.23,573.50 280.20,574.60 C279.17,575.70 276.82,578.15 274.80,578.60 C272.78,579.05 269.73,578.07 268.10,577.30 C266.47,576.53 265.45,575.12 265.00,574.00 C264.55,572.88 264.43,571.62 265.40,570.60Z" fill="#ee8a2e" filter="url(#dor)"/>
<line x1="261.50" y1="585.50" x2="266.80" y2="581.20" stroke="#f3a050" stroke-width="2.4" stroke-linecap="round"/>
</g>
<line x1="365.60" y1="443.80" x2="511.50" y2="443.80" stroke="#2a2a2a" stroke-width="1.0"/>
<text x="438.55" y="441.30" font-size="8" text-anchor="middle" font-weight="normal" fill="#222" stroke="#222" stroke-width="0.18">TBD</text>
<rect x="364.90" y="450.10" width="148.50" height="147.00" fill="none" stroke="#1e1e1e" stroke-width="1.2"/>
<line x1="361.30" y1="459.60" x2="364.90" y2="459.60" stroke="#1e1e1e" stroke-width="1.1"/>
<line x1="372.50" y1="597.10" x2="372.50" y2="600.70" stroke="#1e1e1e" stroke-width="1.1"/>
<line x1="361.30" y1="475.53" x2="364.90" y2="475.53" stroke="#1e1e1e" stroke-width="1.1"/>
<line x1="389.60" y1="597.10" x2="389.60" y2="600.70" stroke="#1e1e1e" stroke-width="1.1"/>
<line x1="361.30" y1="491.46" x2="364.90" y2="491.46" stroke="#1e1e1e" stroke-width="1.1"/>
<line x1="406.70" y1="597.10" x2="406.70" y2="600.70" stroke="#1e1e1e" stroke-width="1.1"/>
<line x1="361.30" y1="507.39" x2="364.90" y2="507.39" stroke="#1e1e1e" stroke-width="1.1"/>
<line x1="423.80" y1="597.10" x2="423.80" y2="600.70" stroke="#1e1e1e" stroke-width="1.1"/>
<line x1="361.30" y1="523.32" x2="364.90" y2="523.32" stroke="#1e1e1e" stroke-width="1.1"/>
<line x1="440.90" y1="597.10" x2="440.90" y2="600.70" stroke="#1e1e1e" stroke-width="1.1"/>
<line x1="361.30" y1="539.25" x2="364.90" y2="539.25" stroke="#1e1e1e" stroke-width="1.1"/>
<line x1="458.00" y1="597.10" x2="458.00" y2="600.70" stroke="#1e1e1e" stroke-width="1.1"/>
<line x1="361.30" y1="555.18" x2="364.90" y2="555.18" stroke="#1e1e1e" stroke-width="1.1"/>
<line x1="475.10" y1="597.10" x2="475.10" y2="600.70" stroke="#1e1e1e" stroke-width="1.1"/>
<line x1="361.30" y1="571.11" x2="364.90" y2="571.11" stroke="#1e1e1e" stroke-width="1.1"/>
<line x1="492.20" y1="597.10" x2="492.20" y2="600.70" stroke="#1e1e1e" stroke-width="1.1"/>
<line x1="361.30" y1="587.04" x2="364.90" y2="587.04" stroke="#1e1e1e" stroke-width="1.1"/>
<line x1="509.30" y1="597.10" x2="509.30" y2="600.70" stroke="#1e1e1e" stroke-width="1.1"/>
<text x="0" y="0" font-size="9.6" font-weight="bold" text-anchor="middle" fill="#222" textLength="19" lengthAdjust="spacingAndGlyphs" transform="translate(355.90 523.50) rotate(-90)">tSNE2</text>
<text x="438.70" y="611.70" font-size="9.6" text-anchor="middle" font-weight="bold" fill="#222" stroke="#222" stroke-width="0" textLength="18.2" lengthAdjust="spacingAndGlyphs">tSNE1</text>
<g filter="url(#soft)">
<path d="M398.40,484.90 C400.08,484.00 402.23,483.42 403.80,484.20 C405.37,484.98 406.80,487.58 407.80,489.60 C408.80,491.62 409.13,494.05 409.80,496.30 C410.47,498.55 412.13,501.30 411.80,503.10 C411.47,504.90 409.58,506.32 407.80,507.10 C406.02,507.88 403.12,508.47 401.10,507.80 C399.08,507.13 397.17,505.02 395.70,503.10 C394.23,501.18 392.63,498.55 392.30,496.30 C391.97,494.05 392.68,491.50 393.70,489.60 C394.72,487.70 396.72,485.80 398.40,484.90Z" fill="#1a2696" filter="url(#d2)"/>
<path d="M398.40,484.90 C400.20,483.43 402.37,483.52 403.80,484.20 C405.23,484.88 406.55,486.87 407.00,489.00 C407.45,491.13 407.08,494.50 406.50,497.00 C405.92,499.50 404.83,502.67 403.50,504.00 C402.17,505.33 400.00,505.67 398.50,505.00 C397.00,504.33 395.42,502.00 394.50,500.00 C393.58,498.00 392.35,495.52 393.00,493.00 C393.65,490.48 396.60,486.37 398.40,484.90Z" fill="#1a2696" filter="url(#d0)"/>
<path d="M415.50,500.00 C416.67,498.17 418.67,496.17 420.50,497.00 C422.33,497.83 425.83,502.67 426.50,505.00 C427.17,507.33 425.83,509.83 424.50,511.00 C423.17,512.17 420.33,512.50 418.50,512.00 C416.67,511.50 414.00,510.00 413.50,508.00 C413.00,506.00 414.33,501.83 415.50,500.00Z" fill="#1a2696" filter="url(#d3)"/>
<path d="M422.60,481.50 C423.93,479.93 426.83,478.28 429.30,477.50 C431.77,476.72 435.15,476.58 437.40,476.80 C439.65,477.02 441.48,477.12 442.80,478.80 C444.12,480.48 444.88,484.20 445.30,486.90 C445.72,489.60 445.63,492.53 445.30,495.00 C444.97,497.47 444.42,499.68 443.30,501.70 C442.18,503.72 440.73,505.97 438.60,507.10 C436.47,508.23 433.18,508.52 430.50,508.50 C427.82,508.48 424.67,507.75 422.50,507.00 C420.33,506.25 418.15,506.00 417.50,504.00 C416.85,502.00 417.97,497.85 418.60,495.00 C419.23,492.15 420.63,489.15 421.30,486.90 C421.97,484.65 421.27,483.07 422.60,481.50Z" fill="#1a2696" filter="url(#d2)"/>
<path d="M424.50,481.00 C425.30,479.08 427.15,478.20 429.30,477.50 C431.45,476.80 435.15,476.58 437.40,476.80 C439.65,477.02 441.48,477.12 442.80,478.80 C444.12,480.48 444.88,484.20 445.30,486.90 C445.72,489.60 445.63,492.53 445.30,495.00 C444.97,497.47 444.42,499.68 443.30,501.70 C442.18,503.72 440.40,506.55 438.60,507.10 C436.80,507.65 434.35,506.68 432.50,505.00 C430.65,503.32 428.83,499.67 427.50,497.00 C426.17,494.33 425.00,491.67 424.50,489.00 C424.00,486.33 423.70,482.92 424.50,481.00Z" fill="#1a2696" filter="url(#d0)"/>
<path d="M382.50,505.00 C383.22,503.90 385.42,503.90 386.50,504.40 C387.58,504.90 388.67,506.57 389.00,508.00 C389.33,509.43 389.17,511.80 388.50,513.00 C387.83,514.20 386.05,515.53 385.00,515.20 C383.95,514.87 382.62,512.70 382.20,511.00 C381.78,509.30 381.78,506.10 382.50,505.00Z" fill="#1a2696" filter="url(#d0)"/>
<path d="M393.00,516.50 C394.47,514.35 399.03,513.62 402.40,512.50 C405.77,511.38 409.83,510.92 413.20,509.80 C416.57,508.68 420.13,505.58 422.60,505.80 C425.07,506.02 427.22,509.08 428.00,511.10 C428.78,513.12 427.43,516.42 427.30,517.90 C427.17,519.38 427.43,518.98 427.20,520.00 C426.97,521.02 426.80,522.20 425.90,524.00 C425.00,525.80 423.60,529.00 421.80,530.80 C420.00,532.60 417.78,533.90 415.10,534.80 C412.42,535.70 408.62,536.42 405.70,536.20 C402.78,535.98 399.62,535.30 397.60,533.50 C395.58,531.70 394.37,528.23 393.60,525.40 C392.83,522.57 391.53,518.65 393.00,516.50Z" fill="#1a2696" filter="url(#d2)"/>
<path d="M410.50,514.00 C412.50,512.25 416.48,510.67 418.50,509.50 C420.52,508.33 421.10,506.58 422.60,507.00 C424.10,507.42 426.77,509.67 427.50,512.00 C428.23,514.33 427.95,517.87 427.00,521.00 C426.05,524.13 423.78,528.50 421.80,530.80 C419.82,533.10 417.78,533.90 415.10,534.80 C412.42,535.70 408.62,536.42 405.70,536.20 C402.78,535.98 399.38,534.87 397.60,533.50 C395.82,532.13 394.52,529.58 395.00,528.00 C395.48,526.42 398.58,525.33 400.50,524.00 C402.42,522.67 404.83,521.67 406.50,520.00 C408.17,518.33 408.50,515.75 410.50,514.00Z" fill="#1a2696" filter="url(#d0)"/>
<path d="M429.30,516.50 C431.00,513.67 432.98,512.33 436.10,511.10 C439.22,509.87 444.45,509.20 448.00,509.10 C451.55,509.00 454.72,509.48 457.40,510.50 C460.08,511.52 462.30,513.07 464.10,515.20 C465.90,517.33 467.30,520.80 468.20,523.30 C469.10,525.80 469.28,527.25 469.50,530.20 C469.72,533.15 469.95,537.63 469.50,541.00 C469.05,544.37 468.13,547.32 466.80,550.40 C465.47,553.48 463.72,556.98 461.50,559.50 C459.28,562.02 456.33,564.00 453.50,565.50 C450.67,567.00 447.08,568.00 444.50,568.50 C441.92,569.00 440.25,569.00 438.00,568.50 C435.75,568.00 433.02,567.00 431.00,565.50 C428.98,564.00 427.20,561.92 425.90,559.50 C424.60,557.08 423.53,554.22 423.20,551.00 C422.87,547.78 423.45,544.02 423.90,540.20 C424.35,536.38 425.00,532.05 425.90,528.10 C426.80,524.15 427.60,519.33 429.30,516.50Z" fill="#1a2696" filter="url(#d2)"/>
<path d="M429.50,517.00 C430.60,514.35 433.02,512.42 436.10,511.10 C439.18,509.78 444.45,509.20 448.00,509.10 C451.55,509.00 454.72,509.48 457.40,510.50 C460.08,511.52 462.30,513.07 464.10,515.20 C465.90,517.33 467.30,520.80 468.20,523.30 C469.10,525.80 469.28,527.25 469.50,530.20 C469.72,533.15 469.95,537.63 469.50,541.00 C469.05,544.37 468.13,547.48 466.80,550.40 C465.47,553.32 463.72,556.40 461.50,558.50 C459.28,560.60 455.33,564.08 453.50,563.00 C451.67,561.92 452.00,555.50 450.50,552.00 C449.00,548.50 446.83,545.00 444.50,542.00 C442.17,539.00 439.00,536.50 436.50,534.00 C434.00,531.50 430.67,529.83 429.50,527.00 C428.33,524.17 428.40,519.65 429.50,517.00Z" fill="#1a2696" filter="url(#d1)"/>
<path d="M436.50,512.00 C438.08,510.18 444.52,509.35 448.00,509.10 C451.48,508.85 454.72,509.48 457.40,510.50 C460.08,511.52 462.30,513.07 464.10,515.20 C465.90,517.33 467.30,520.80 468.20,523.30 C469.10,525.80 469.28,527.25 469.50,530.20 C469.72,533.15 469.95,537.63 469.50,541.00 C469.05,544.37 467.97,547.90 466.80,550.40 C465.63,552.90 464.05,556.40 462.50,556.00 C460.95,555.60 459.00,551.00 457.50,548.00 C456.00,545.00 455.33,541.33 453.50,538.00 C451.67,534.67 449.00,531.00 446.50,528.00 C444.00,525.00 440.17,522.67 438.50,520.00 C436.83,517.33 434.92,513.82 436.50,512.00Z" fill="#1a2696" filter="url(#d0)"/>
<path d="M425.50,540.00 C426.92,538.83 430.00,541.33 432.50,543.00 C435.00,544.67 438.33,547.50 440.50,550.00 C442.67,552.50 445.17,555.50 445.50,558.00 C445.83,560.50 444.33,564.00 442.50,565.00 C440.67,566.00 437.00,565.00 434.50,564.00 C432.00,563.00 429.25,561.33 427.50,559.00 C425.75,556.67 424.33,553.17 424.00,550.00 C423.67,546.83 424.08,541.17 425.50,540.00Z" fill="#1a2696" filter="url(#d3)"/>
<path d="M400.30,546.90 C400.42,545.55 401.43,544.87 403.00,544.20 C404.57,543.53 407.68,543.00 409.70,542.90 C411.72,542.80 413.30,542.93 415.10,543.60 C416.90,544.27 419.38,545.45 420.50,546.90 C421.62,548.35 421.80,550.05 421.80,552.30 C421.80,554.55 421.62,558.50 420.50,560.40 C419.38,562.30 417.57,563.15 415.10,563.70 C412.63,564.25 407.72,564.25 405.70,563.70 C403.68,563.15 403.57,562.30 403.00,560.40 C402.43,558.50 402.75,554.55 402.30,552.30 C401.85,550.05 400.18,548.25 400.30,546.90Z" fill="#1a2696" filter="url(#d1)"/>
<path d="M466.80,504.40 C467.25,501.93 469.10,498.32 470.90,496.30 C472.70,494.28 475.13,492.75 477.60,492.30 C480.07,491.85 483.45,492.25 485.70,493.60 C487.95,494.95 489.98,497.92 491.10,500.40 C492.22,502.88 491.95,505.37 492.40,508.50 C492.85,511.63 493.35,516.25 493.80,519.20 C494.25,522.15 495.10,523.47 495.10,526.20 C495.10,528.93 495.15,532.92 493.80,535.60 C492.45,538.28 489.03,540.52 487.00,542.30 C484.97,544.08 483.05,543.83 481.60,546.30 C480.15,548.77 478.98,556.87 478.30,557.10 C477.62,557.33 477.95,550.38 477.50,547.70 C477.05,545.02 475.80,543.70 475.60,541.00 C475.40,538.30 476.63,534.17 476.30,531.50 C475.97,528.83 474.28,527.05 473.60,525.00 C472.92,522.95 473.10,521.52 472.20,519.20 C471.30,516.88 469.10,513.57 468.20,511.10 C467.30,508.63 466.35,506.87 466.80,504.40Z" fill="#1a2696" filter="url(#d2)"/>
<path d="M468.50,503.00 C469.00,500.92 470.00,498.25 471.50,496.50 C473.00,494.75 475.17,492.98 477.50,492.50 C479.83,492.02 483.50,492.52 485.50,493.60 C487.50,494.68 489.33,496.93 489.50,499.00 C489.67,501.07 488.00,504.00 486.50,506.00 C485.00,508.00 482.67,509.83 480.50,511.00 C478.33,512.17 475.50,513.33 473.50,513.00 C471.50,512.67 469.33,510.67 468.50,509.00 C467.67,507.33 468.00,505.08 468.50,503.00Z" fill="#1a2696" filter="url(#d0)"/>
<path d="M476.50,520.00 C477.42,517.50 480.50,517.67 482.50,518.00 C484.50,518.33 486.83,520.00 488.50,522.00 C490.17,524.00 492.50,527.33 492.50,530.00 C492.50,532.67 490.33,536.33 488.50,538.00 C486.67,539.67 483.42,540.83 481.50,540.00 C479.58,539.17 477.83,536.33 477.00,533.00 C476.17,529.67 475.58,522.50 476.50,520.00Z" fill="#1a2696" filter="url(#d1)"/>
<path d="M444.00,470.00 C444.42,469.40 446.38,469.15 447.50,469.40 C448.62,469.65 450.37,470.82 450.70,471.50 C451.03,472.18 450.45,473.25 449.50,473.50 C448.55,473.75 445.92,473.58 445.00,473.00 C444.08,472.42 443.58,470.60 444.00,470.00Z" fill="#1a2696" filter="url(#d0)"/>
<path d="M453.50,474.00 C454.00,473.25 456.95,473.00 458.50,473.50 C460.05,474.00 462.38,476.12 462.80,477.00 C463.22,477.88 462.22,478.63 461.00,478.80 C459.78,478.97 456.75,478.80 455.50,478.00 C454.25,477.20 453.00,474.75 453.50,474.00Z" fill="#1a2696" filter="url(#d0)"/>
<path d="M466.80,480.50 C467.45,480.20 470.28,479.92 470.90,480.20 C471.52,480.48 471.15,481.90 470.50,482.20 C469.85,482.50 467.62,482.28 467.00,482.00 C466.38,481.72 466.15,480.80 466.80,480.50Z" fill="#1a2696" filter="url(#d0)"/>
<path d="M446.70,481.00 C446.87,480.03 449.17,479.87 450.50,480.20 C451.83,480.53 454.20,481.88 454.70,483.00 C455.20,484.12 454.37,486.40 453.50,486.90 C452.63,487.40 450.63,486.98 449.50,486.00 C448.37,485.02 446.53,481.97 446.70,481.00Z" fill="#1a2696" filter="url(#d0)"/>
<path d="M456.10,488.00 C456.43,486.65 458.93,486.57 460.50,486.90 C462.07,487.23 464.83,488.43 465.50,490.00 C466.17,491.57 465.67,495.47 464.50,496.30 C463.33,497.13 459.90,496.38 458.50,495.00 C457.10,493.62 455.77,489.35 456.10,488.00Z" fill="#1a2696" filter="url(#d2)"/>
<path d="M449.30,491.00 C449.95,490.67 452.87,491.07 453.40,491.50 C453.93,491.93 453.15,493.27 452.50,493.60 C451.85,493.93 450.03,493.93 449.50,493.50 C448.97,493.07 448.65,491.33 449.30,491.00Z" fill="#1a2696" filter="url(#d0)"/>
<path d="M453.40,500.40 C454.05,499.90 456.88,500.33 457.40,501.00 C457.92,501.67 457.15,503.90 456.50,504.40 C455.85,504.90 454.02,504.67 453.50,504.00 C452.98,503.33 452.75,500.90 453.40,500.40Z" fill="#1a2696" filter="url(#d0)"/>
<path d="M436.10,469.50 C437.10,469.15 440.93,469.15 442.50,469.40 C444.07,469.65 445.83,470.57 445.50,471.00 C445.17,471.43 442.00,471.92 440.50,472.00 C439.00,472.08 437.23,471.92 436.50,471.50 C435.77,471.08 435.10,469.85 436.10,469.50Z" fill="#1a2696" filter="url(#d1)"/>
<circle cx="388.5" cy="520.0" r="0.55" fill="#1a2696" fill-opacity="0.8"/>
<circle cx="391.5" cy="524.0" r="0.55" fill="#1a2696" fill-opacity="0.8"/>
<circle cx="395.5" cy="540.0" r="0.55" fill="#1a2696" fill-opacity="0.8"/>
<circle cx="397.5" cy="544.0" r="0.55" fill="#1a2696" fill-opacity="0.8"/>
<circle cx="385.5" cy="500.0" r="0.55" fill="#1a2696" fill-opacity="0.8"/>
<circle cx="417.5" cy="480.0" r="0.55" fill="#1a2696" fill-opacity="0.8"/>
<circle cx="421.3" cy="472.1" r="0.55" fill="#1a2696" fill-opacity="0.8"/>
<circle cx="415.9" cy="476.2" r="0.55" fill="#1a2696" fill-opacity="0.8"/>
<circle cx="413.5" cy="484.0" r="0.55" fill="#1a2696" fill-opacity="0.8"/>
<circle cx="472.5" cy="560.0" r="0.55" fill="#1a2696" fill-opacity="0.8"/>
<circle cx="474.5" cy="565.0" r="0.55" fill="#1a2696" fill-opacity="0.8"/>
<circle cx="470.5" cy="548.0" r="0.55" fill="#1a2696" fill-opacity="0.8"/>
<circle cx="466.5" cy="570.0" r="0.55" fill="#1a2696" fill-opacity="0.8"/>
<circle cx="455.5" cy="580.0" r="0.55" fill="#1a2696" fill-opacity="0.8"/>
<circle cx="428.5" cy="573.0" r="0.55" fill="#1a2696" fill-opacity="0.8"/>
<circle cx="424.5" cy="567.0" r="0.55" fill="#1a2696" fill-opacity="0.8"/>
<circle cx="397.5" cy="566.0" r="0.55" fill="#1a2696" fill-opacity="0.8"/>
<circle cx="394.5" cy="560.0" r="0.55" fill="#1a2696" fill-opacity="0.8"/>
<circle cx="462.5" cy="470.0" r="0.55" fill="#1a2696" fill-opacity="0.8"/>
<circle cx="467.5" cy="474.0" r="0.55" fill="#1a2696" fill-opacity="0.8"/>
<circle cx="475.5" cy="487.0" r="0.55" fill="#1a2696" fill-opacity="0.8"/>
<circle cx="496.5" cy="540.0" r="0.55" fill="#1a2696" fill-opacity="0.8"/>
<circle cx="473.5" cy="503.0" r="0.55" fill="#1a2696" fill-opacity="0.8"/>
<circle cx="390.5" cy="535.0" r="0.55" fill="#1a2696" fill-opacity="0.8"/>
<path d="M447.50,480.50 C448.00,479.70 450.65,479.78 452.00,480.20 C453.35,480.62 455.43,481.88 455.60,483.00 C455.77,484.12 454.10,486.57 453.00,486.90 C451.90,487.23 449.92,486.07 449.00,485.00 C448.08,483.93 447.00,481.30 447.50,480.50Z" fill="#1a2696" filter="url(#d0)"/>
<path d="M457.00,488.00 C457.75,487.00 460.45,486.83 462.00,487.00 C463.55,487.17 465.80,487.67 466.30,489.00 C466.80,490.33 465.88,493.55 465.00,495.00 C464.12,496.45 462.25,498.03 461.00,497.70 C459.75,497.37 458.17,494.62 457.50,493.00 C456.83,491.38 456.25,489.00 457.00,488.00Z" fill="#1a2696" filter="url(#d0)"/>
<path d="M448.80,491.50 C449.47,491.00 451.98,490.75 453.00,491.00 C454.02,491.25 455.07,492.33 454.90,493.00 C454.73,493.67 452.98,494.83 452.00,495.00 C451.02,495.17 449.53,494.58 449.00,494.00 C448.47,493.42 448.13,492.00 448.80,491.50Z" fill="#1a2696" filter="url(#d0)"/>
<path d="M448.80,499.50 C449.55,498.83 452.65,498.58 454.00,499.00 C455.35,499.42 456.90,501.10 456.90,502.00 C456.90,502.90 455.23,504.23 454.00,504.40 C452.77,504.57 450.37,503.82 449.50,503.00 C448.63,502.18 448.05,500.17 448.80,499.50Z" fill="#1a2696" filter="url(#d0)"/>
<path d="M435.80,570.60 C436.75,569.58 439.43,568.42 441.20,567.90 C442.97,567.38 444.82,567.28 446.40,567.50 C447.98,567.72 449.85,568.45 450.70,569.20 C451.55,569.95 451.50,571.10 451.50,572.00 C451.50,572.90 451.73,573.50 450.70,574.60 C449.67,575.70 447.32,578.15 445.30,578.60 C443.28,579.05 440.23,578.07 438.60,577.30 C436.97,576.53 435.97,575.12 435.50,574.00 C435.03,572.88 434.85,571.62 435.80,570.60Z" fill="#ee8a2e"/>
<line x1="431.50" y1="585.80" x2="436.50" y2="582.00" stroke="#ee8a2e" stroke-width="2.4" stroke-linecap="round"/>
</g>
<rect x="0.5" y="0.5" width="519" height="620" fill="none" stroke="#4a4a4a" stroke-width="1"/>
</svg>
</body></html>
